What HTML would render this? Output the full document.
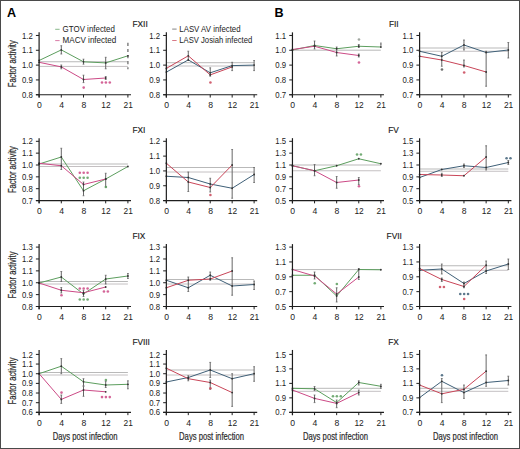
<!DOCTYPE html>
<html><head><meta charset="utf-8"><style>
html,body{margin:0;padding:0;background:#fff;width:520px;height:449px;overflow:hidden}
svg text{font-family:"Liberation Sans", sans-serif}
</style></head><body>
<svg width="520" height="449" viewBox="0 0 520 449" style="position:absolute;left:0;top:0">
<rect x="0" y="0" width="520" height="449" fill="#fff"/>
<line x1="39.6" y1="61.75" x2="127.9" y2="61.75" stroke="#b9b9b9" stroke-width="1"/>
<line x1="39.6" y1="66.4" x2="127.9" y2="66.4" stroke="#c4c0c2" stroke-width="1"/>
<polyline fill="none" stroke="#5c9e5e" stroke-width="1" points="39.1,60.5 61.3,49.9 83.5,61.8 105.7,62.9 127.9,55.8"/>
<polyline fill="none" stroke="#cc4a86" stroke-width="1" points="39.1,62.3 61.3,66.9 83.5,79.5 105.7,78"/>
<line x1="61.3" y1="45.7" x2="61.3" y2="54" stroke="#666" stroke-width="1"/>
<line x1="60.4" y1="45.7" x2="62.2" y2="45.7" stroke="#666" stroke-width="0.8"/>
<line x1="60.4" y1="54" x2="62.2" y2="54" stroke="#666" stroke-width="0.8"/>
<line x1="83.5" y1="59.2" x2="83.5" y2="64.2" stroke="#666" stroke-width="1"/>
<line x1="82.6" y1="59.2" x2="84.4" y2="59.2" stroke="#666" stroke-width="0.8"/>
<line x1="82.6" y1="64.2" x2="84.4" y2="64.2" stroke="#666" stroke-width="0.8"/>
<line x1="105.7" y1="57.3" x2="105.7" y2="68.8" stroke="#666" stroke-width="1"/>
<line x1="104.8" y1="57.3" x2="106.6" y2="57.3" stroke="#666" stroke-width="0.8"/>
<line x1="104.8" y1="68.8" x2="106.6" y2="68.8" stroke="#666" stroke-width="0.8"/>
<line x1="61.3" y1="65" x2="61.3" y2="68.8" stroke="#666" stroke-width="1"/>
<line x1="60.4" y1="65" x2="62.2" y2="65" stroke="#666" stroke-width="0.8"/>
<line x1="60.4" y1="68.8" x2="62.2" y2="68.8" stroke="#666" stroke-width="0.8"/>
<line x1="83.5" y1="75.2" x2="83.5" y2="82.6" stroke="#666" stroke-width="1"/>
<line x1="82.6" y1="75.2" x2="84.4" y2="75.2" stroke="#666" stroke-width="0.8"/>
<line x1="82.6" y1="82.6" x2="84.4" y2="82.6" stroke="#666" stroke-width="0.8"/>
<line x1="105.7" y1="76.5" x2="105.7" y2="79.5" stroke="#666" stroke-width="1"/>
<line x1="104.8" y1="76.5" x2="106.6" y2="76.5" stroke="#666" stroke-width="0.8"/>
<line x1="104.8" y1="79.5" x2="106.6" y2="79.5" stroke="#666" stroke-width="0.8"/>
<line x1="127.9" y1="42.8" x2="127.9" y2="69.2" stroke="#7a7a7a" stroke-width="1.4" stroke-dasharray="3.2,2.9"/>
<circle cx="39.1" cy="60.5" r="0.9" fill="#333"/>
<circle cx="61.3" cy="49.9" r="0.9" fill="#333"/>
<circle cx="83.5" cy="61.8" r="0.9" fill="#333"/>
<circle cx="105.7" cy="62.9" r="0.9" fill="#333"/>
<circle cx="127.9" cy="55.8" r="0.9" fill="#333"/>
<circle cx="39.1" cy="62.3" r="0.9" fill="#333"/>
<circle cx="61.3" cy="66.9" r="0.9" fill="#333"/>
<circle cx="83.5" cy="79.5" r="0.9" fill="#333"/>
<circle cx="105.7" cy="78" r="0.9" fill="#333"/>
<circle cx="83.7" cy="87.6" r="1.3" fill="#cc4a86" opacity="0.85"/>
<circle cx="102" cy="82.5" r="1.3" fill="#cc4a86" opacity="0.85"/>
<circle cx="105.9" cy="82.5" r="1.3" fill="#cc4a86" opacity="0.85"/>
<circle cx="109.8" cy="82.5" r="1.3" fill="#cc4a86" opacity="0.85"/>
<line x1="39.1" y1="32.35" x2="39.1" y2="97.55" stroke="#1e1e1e" stroke-width="1.2"/>
<line x1="35.9" y1="94.75" x2="131" y2="94.75" stroke="#1e1e1e" stroke-width="1.2"/>
<line x1="35.9" y1="35.46" x2="39.1" y2="35.46" stroke="#1e1e1e" stroke-width="1"/>
<text x="32.8" y="38.56" fill="#222" font-size="9.4" text-anchor="end" textLength="10.8" lengthAdjust="spacingAndGlyphs">1.2</text>
<line x1="35.9" y1="50.28" x2="39.1" y2="50.28" stroke="#1e1e1e" stroke-width="1"/>
<text x="32.8" y="53.38" fill="#222" font-size="9.4" text-anchor="end" textLength="10.8" lengthAdjust="spacingAndGlyphs">1.1</text>
<line x1="35.9" y1="65.11" x2="39.1" y2="65.11" stroke="#1e1e1e" stroke-width="1"/>
<text x="32.8" y="68.2" fill="#222" font-size="9.4" text-anchor="end" textLength="10.8" lengthAdjust="spacingAndGlyphs">1.0</text>
<line x1="35.9" y1="79.93" x2="39.1" y2="79.93" stroke="#1e1e1e" stroke-width="1"/>
<text x="32.8" y="83.03" fill="#222" font-size="9.4" text-anchor="end" textLength="10.8" lengthAdjust="spacingAndGlyphs">0.9</text>
<line x1="35.9" y1="94.75" x2="39.1" y2="94.75" stroke="#1e1e1e" stroke-width="1"/>
<text x="32.8" y="97.85" fill="#222" font-size="9.4" text-anchor="end" textLength="10.8" lengthAdjust="spacingAndGlyphs">0.8</text>
<line x1="39.1" y1="94.75" x2="39.1" y2="97.55" stroke="#1e1e1e" stroke-width="1"/>
<text x="39.4" y="108.25" fill="#222" font-size="9.4" text-anchor="middle" textLength="4.8" lengthAdjust="spacingAndGlyphs">0</text>
<line x1="61.3" y1="94.75" x2="61.3" y2="97.55" stroke="#1e1e1e" stroke-width="1"/>
<text x="61.6" y="108.25" fill="#222" font-size="9.4" text-anchor="middle" textLength="4.8" lengthAdjust="spacingAndGlyphs">4</text>
<line x1="83.5" y1="94.75" x2="83.5" y2="97.55" stroke="#1e1e1e" stroke-width="1"/>
<text x="83.8" y="108.25" fill="#222" font-size="9.4" text-anchor="middle" textLength="4.8" lengthAdjust="spacingAndGlyphs">8</text>
<line x1="105.7" y1="94.75" x2="105.7" y2="97.55" stroke="#1e1e1e" stroke-width="1"/>
<text x="106" y="108.25" fill="#222" font-size="9.4" text-anchor="middle" textLength="9.3" lengthAdjust="spacingAndGlyphs">12</text>
<line x1="127.9" y1="94.75" x2="127.9" y2="97.55" stroke="#1e1e1e" stroke-width="1"/>
<text x="128.2" y="108.25" fill="#222" font-size="9.4" text-anchor="middle" textLength="9.3" lengthAdjust="spacingAndGlyphs">21</text>
<line x1="166.85" y1="62.7" x2="254.11" y2="62.7" stroke="#b9b9b9" stroke-width="1"/>
<line x1="166.85" y1="66" x2="254.11" y2="66" stroke="#c4c0c2" stroke-width="1"/>
<polyline fill="none" stroke="#3f6078" stroke-width="1" points="166.35,72.1 188.29,59.9 210.23,72.8 232.17,65.6 254.11,65.1"/>
<polyline fill="none" stroke="#c94558" stroke-width="1" points="166.35,68.4 188.29,55.8 210.23,74.9 232.17,66.9"/>
<line x1="188.29" y1="51.2" x2="188.29" y2="60.5" stroke="#666" stroke-width="1"/>
<line x1="187.39" y1="51.2" x2="189.19" y2="51.2" stroke="#666" stroke-width="0.8"/>
<line x1="187.39" y1="60.5" x2="189.19" y2="60.5" stroke="#666" stroke-width="0.8"/>
<line x1="210.23" y1="67.8" x2="210.23" y2="76.2" stroke="#666" stroke-width="1"/>
<line x1="209.33" y1="67.8" x2="211.13" y2="67.8" stroke="#666" stroke-width="0.8"/>
<line x1="209.33" y1="76.2" x2="211.13" y2="76.2" stroke="#666" stroke-width="0.8"/>
<line x1="232.17" y1="62.3" x2="232.17" y2="70.6" stroke="#666" stroke-width="1"/>
<line x1="231.27" y1="62.3" x2="233.07" y2="62.3" stroke="#666" stroke-width="0.8"/>
<line x1="231.27" y1="70.6" x2="233.07" y2="70.6" stroke="#666" stroke-width="0.8"/>
<line x1="254.11" y1="60.5" x2="254.11" y2="70.6" stroke="#666" stroke-width="1"/>
<line x1="253.21" y1="60.5" x2="255.01" y2="60.5" stroke="#666" stroke-width="0.8"/>
<line x1="253.21" y1="70.6" x2="255.01" y2="70.6" stroke="#666" stroke-width="0.8"/>
<circle cx="166.35" cy="72.1" r="0.9" fill="#333"/>
<circle cx="188.29" cy="59.9" r="0.9" fill="#333"/>
<circle cx="210.23" cy="72.8" r="0.9" fill="#333"/>
<circle cx="232.17" cy="65.6" r="0.9" fill="#333"/>
<circle cx="254.11" cy="65.1" r="0.9" fill="#333"/>
<circle cx="166.35" cy="68.4" r="0.9" fill="#333"/>
<circle cx="188.29" cy="55.8" r="0.9" fill="#333"/>
<circle cx="210.23" cy="74.9" r="0.9" fill="#333"/>
<circle cx="232.17" cy="66.9" r="0.9" fill="#333"/>
<circle cx="210.43" cy="82.5" r="1.3" fill="#c94558" opacity="0.85"/>
<line x1="166.35" y1="32.35" x2="166.35" y2="97.55" stroke="#1e1e1e" stroke-width="1.2"/>
<line x1="163.15" y1="94.75" x2="257.21" y2="94.75" stroke="#1e1e1e" stroke-width="1.2"/>
<line x1="163.15" y1="35.46" x2="166.35" y2="35.46" stroke="#1e1e1e" stroke-width="1"/>
<text x="160.05" y="38.56" fill="#222" font-size="9.4" text-anchor="end" textLength="10.8" lengthAdjust="spacingAndGlyphs">1.2</text>
<line x1="163.15" y1="50.28" x2="166.35" y2="50.28" stroke="#1e1e1e" stroke-width="1"/>
<text x="160.05" y="53.38" fill="#222" font-size="9.4" text-anchor="end" textLength="10.8" lengthAdjust="spacingAndGlyphs">1.1</text>
<line x1="163.15" y1="65.11" x2="166.35" y2="65.11" stroke="#1e1e1e" stroke-width="1"/>
<text x="160.05" y="68.2" fill="#222" font-size="9.4" text-anchor="end" textLength="10.8" lengthAdjust="spacingAndGlyphs">1.0</text>
<line x1="163.15" y1="79.93" x2="166.35" y2="79.93" stroke="#1e1e1e" stroke-width="1"/>
<text x="160.05" y="83.03" fill="#222" font-size="9.4" text-anchor="end" textLength="10.8" lengthAdjust="spacingAndGlyphs">0.9</text>
<line x1="163.15" y1="94.75" x2="166.35" y2="94.75" stroke="#1e1e1e" stroke-width="1"/>
<text x="160.05" y="97.85" fill="#222" font-size="9.4" text-anchor="end" textLength="10.8" lengthAdjust="spacingAndGlyphs">0.8</text>
<line x1="166.35" y1="94.75" x2="166.35" y2="97.55" stroke="#1e1e1e" stroke-width="1"/>
<text x="166.65" y="108.25" fill="#222" font-size="9.4" text-anchor="middle" textLength="4.8" lengthAdjust="spacingAndGlyphs">0</text>
<line x1="188.29" y1="94.75" x2="188.29" y2="97.55" stroke="#1e1e1e" stroke-width="1"/>
<text x="188.59" y="108.25" fill="#222" font-size="9.4" text-anchor="middle" textLength="4.8" lengthAdjust="spacingAndGlyphs">4</text>
<line x1="210.23" y1="94.75" x2="210.23" y2="97.55" stroke="#1e1e1e" stroke-width="1"/>
<text x="210.53" y="108.25" fill="#222" font-size="9.4" text-anchor="middle" textLength="4.8" lengthAdjust="spacingAndGlyphs">8</text>
<line x1="232.17" y1="94.75" x2="232.17" y2="97.55" stroke="#1e1e1e" stroke-width="1"/>
<text x="232.47" y="108.25" fill="#222" font-size="9.4" text-anchor="middle" textLength="9.3" lengthAdjust="spacingAndGlyphs">12</text>
<line x1="254.11" y1="94.75" x2="254.11" y2="97.55" stroke="#1e1e1e" stroke-width="1"/>
<text x="254.41" y="108.25" fill="#222" font-size="9.4" text-anchor="middle" textLength="9.3" lengthAdjust="spacingAndGlyphs">21</text>
<line x1="292.95" y1="50.2" x2="380.89" y2="50.2" stroke="#b9b9b9" stroke-width="1"/>
<polyline fill="none" stroke="#5c9e5e" stroke-width="1" points="292.45,50 314.56,45.5 336.67,48.75 358.78,46.25 380.89,47"/>
<polyline fill="none" stroke="#cc4a86" stroke-width="1" points="292.45,49.5 314.56,46.25 336.67,52.5 358.78,55.5"/>
<line x1="314.56" y1="41" x2="314.56" y2="49" stroke="#666" stroke-width="1"/>
<line x1="313.66" y1="41" x2="315.46" y2="41" stroke="#666" stroke-width="0.8"/>
<line x1="313.66" y1="49" x2="315.46" y2="49" stroke="#666" stroke-width="0.8"/>
<line x1="336.67" y1="47" x2="336.67" y2="56" stroke="#666" stroke-width="1"/>
<line x1="335.77" y1="47" x2="337.57" y2="47" stroke="#666" stroke-width="0.8"/>
<line x1="335.77" y1="56" x2="337.57" y2="56" stroke="#666" stroke-width="0.8"/>
<line x1="358.78" y1="54" x2="358.78" y2="57" stroke="#666" stroke-width="1"/>
<line x1="357.88" y1="54" x2="359.68" y2="54" stroke="#666" stroke-width="0.8"/>
<line x1="357.88" y1="57" x2="359.68" y2="57" stroke="#666" stroke-width="0.8"/>
<line x1="358.78" y1="44.5" x2="358.78" y2="47.5" stroke="#666" stroke-width="1"/>
<line x1="357.88" y1="44.5" x2="359.68" y2="44.5" stroke="#666" stroke-width="0.8"/>
<line x1="357.88" y1="47.5" x2="359.68" y2="47.5" stroke="#666" stroke-width="0.8"/>
<line x1="380.89" y1="42.5" x2="380.89" y2="47.5" stroke="#7a7a7a" stroke-width="1.4" stroke-dasharray="3.2,2.9"/>
<circle cx="292.45" cy="50" r="0.9" fill="#333"/>
<circle cx="314.56" cy="45.5" r="0.9" fill="#333"/>
<circle cx="336.67" cy="48.75" r="0.9" fill="#333"/>
<circle cx="358.78" cy="46.25" r="0.9" fill="#333"/>
<circle cx="380.89" cy="47" r="0.9" fill="#333"/>
<circle cx="292.45" cy="49.5" r="0.9" fill="#333"/>
<circle cx="314.56" cy="46.25" r="0.9" fill="#333"/>
<circle cx="336.67" cy="52.5" r="0.9" fill="#333"/>
<circle cx="358.78" cy="55.5" r="0.9" fill="#333"/>
<circle cx="358.98" cy="39.5" r="1.3" fill="#909890" opacity="0.85"/>
<circle cx="358.98" cy="62.5" r="1.3" fill="#cc4a86" opacity="0.85"/>
<line x1="292.45" y1="32.35" x2="292.45" y2="97.55" stroke="#1e1e1e" stroke-width="1.2"/>
<line x1="289.25" y1="94.75" x2="383.99" y2="94.75" stroke="#1e1e1e" stroke-width="1.2"/>
<line x1="289.25" y1="35.46" x2="292.45" y2="35.46" stroke="#1e1e1e" stroke-width="1"/>
<text x="286.15" y="38.56" fill="#222" font-size="9.4" text-anchor="end" textLength="10.8" lengthAdjust="spacingAndGlyphs">1.1</text>
<line x1="289.25" y1="50.28" x2="292.45" y2="50.28" stroke="#1e1e1e" stroke-width="1"/>
<text x="286.15" y="53.38" fill="#222" font-size="9.4" text-anchor="end" textLength="10.8" lengthAdjust="spacingAndGlyphs">1.0</text>
<line x1="289.25" y1="65.11" x2="292.45" y2="65.11" stroke="#1e1e1e" stroke-width="1"/>
<text x="286.15" y="68.2" fill="#222" font-size="9.4" text-anchor="end" textLength="10.8" lengthAdjust="spacingAndGlyphs">0.9</text>
<line x1="289.25" y1="79.93" x2="292.45" y2="79.93" stroke="#1e1e1e" stroke-width="1"/>
<text x="286.15" y="83.03" fill="#222" font-size="9.4" text-anchor="end" textLength="10.8" lengthAdjust="spacingAndGlyphs">0.8</text>
<line x1="289.25" y1="94.75" x2="292.45" y2="94.75" stroke="#1e1e1e" stroke-width="1"/>
<text x="286.15" y="97.85" fill="#222" font-size="9.4" text-anchor="end" textLength="10.8" lengthAdjust="spacingAndGlyphs">0.7</text>
<line x1="292.45" y1="94.75" x2="292.45" y2="97.55" stroke="#1e1e1e" stroke-width="1"/>
<text x="292.75" y="108.25" fill="#222" font-size="9.4" text-anchor="middle" textLength="4.8" lengthAdjust="spacingAndGlyphs">0</text>
<line x1="314.56" y1="94.75" x2="314.56" y2="97.55" stroke="#1e1e1e" stroke-width="1"/>
<text x="314.86" y="108.25" fill="#222" font-size="9.4" text-anchor="middle" textLength="4.8" lengthAdjust="spacingAndGlyphs">4</text>
<line x1="336.67" y1="94.75" x2="336.67" y2="97.55" stroke="#1e1e1e" stroke-width="1"/>
<text x="336.97" y="108.25" fill="#222" font-size="9.4" text-anchor="middle" textLength="4.8" lengthAdjust="spacingAndGlyphs">8</text>
<line x1="358.78" y1="94.75" x2="358.78" y2="97.55" stroke="#1e1e1e" stroke-width="1"/>
<text x="359.08" y="108.25" fill="#222" font-size="9.4" text-anchor="middle" textLength="9.3" lengthAdjust="spacingAndGlyphs">12</text>
<line x1="380.89" y1="94.75" x2="380.89" y2="97.55" stroke="#1e1e1e" stroke-width="1"/>
<text x="381.19" y="108.25" fill="#222" font-size="9.4" text-anchor="middle" textLength="9.3" lengthAdjust="spacingAndGlyphs">21</text>
<line x1="420.1" y1="48" x2="508.32" y2="48" stroke="#b9b9b9" stroke-width="1"/>
<line x1="420.1" y1="51.25" x2="508.32" y2="51.25" stroke="#c4c0c2" stroke-width="1"/>
<polyline fill="none" stroke="#3f6078" stroke-width="1" points="419.6,51.25 441.78,56.25 463.96,45 486.14,52.5 508.32,50"/>
<polyline fill="none" stroke="#c94558" stroke-width="1" points="419.6,56.25 441.78,60 463.96,65.5 486.14,72"/>
<line x1="441.78" y1="52.5" x2="441.78" y2="66.25" stroke="#666" stroke-width="1"/>
<line x1="440.88" y1="52.5" x2="442.68" y2="52.5" stroke="#666" stroke-width="0.8"/>
<line x1="440.88" y1="66.25" x2="442.68" y2="66.25" stroke="#666" stroke-width="0.8"/>
<line x1="463.96" y1="40" x2="463.96" y2="50" stroke="#666" stroke-width="1"/>
<line x1="463.06" y1="40" x2="464.86" y2="40" stroke="#666" stroke-width="0.8"/>
<line x1="463.06" y1="50" x2="464.86" y2="50" stroke="#666" stroke-width="0.8"/>
<line x1="463.96" y1="60" x2="463.96" y2="67" stroke="#666" stroke-width="1"/>
<line x1="463.06" y1="60" x2="464.86" y2="60" stroke="#666" stroke-width="0.8"/>
<line x1="463.06" y1="67" x2="464.86" y2="67" stroke="#666" stroke-width="0.8"/>
<line x1="486.14" y1="51.25" x2="486.14" y2="86.25" stroke="#666" stroke-width="1"/>
<line x1="485.24" y1="51.25" x2="487.04" y2="51.25" stroke="#666" stroke-width="0.8"/>
<line x1="485.24" y1="86.25" x2="487.04" y2="86.25" stroke="#666" stroke-width="0.8"/>
<line x1="508.32" y1="42.5" x2="508.32" y2="58" stroke="#666" stroke-width="1"/>
<line x1="507.42" y1="42.5" x2="509.22" y2="42.5" stroke="#666" stroke-width="0.8"/>
<line x1="507.42" y1="58" x2="509.22" y2="58" stroke="#666" stroke-width="0.8"/>
<circle cx="419.6" cy="51.25" r="0.9" fill="#333"/>
<circle cx="441.78" cy="56.25" r="0.9" fill="#333"/>
<circle cx="463.96" cy="45" r="0.9" fill="#333"/>
<circle cx="486.14" cy="52.5" r="0.9" fill="#333"/>
<circle cx="508.32" cy="50" r="0.9" fill="#333"/>
<circle cx="419.6" cy="56.25" r="0.9" fill="#333"/>
<circle cx="441.78" cy="60" r="0.9" fill="#333"/>
<circle cx="463.96" cy="65.5" r="0.9" fill="#333"/>
<circle cx="486.14" cy="72" r="0.9" fill="#333"/>
<circle cx="441.98" cy="69.5" r="1.3" fill="#555" opacity="0.85"/>
<circle cx="464.16" cy="72.5" r="1.3" fill="#c94558" opacity="0.85"/>
<line x1="419.6" y1="32.35" x2="419.6" y2="97.55" stroke="#1e1e1e" stroke-width="1.2"/>
<line x1="416.4" y1="94.75" x2="511.42" y2="94.75" stroke="#1e1e1e" stroke-width="1.2"/>
<line x1="416.4" y1="35.46" x2="419.6" y2="35.46" stroke="#1e1e1e" stroke-width="1"/>
<text x="413.3" y="38.56" fill="#222" font-size="9.4" text-anchor="end" textLength="10.8" lengthAdjust="spacingAndGlyphs">1.1</text>
<line x1="416.4" y1="50.28" x2="419.6" y2="50.28" stroke="#1e1e1e" stroke-width="1"/>
<text x="413.3" y="53.38" fill="#222" font-size="9.4" text-anchor="end" textLength="10.8" lengthAdjust="spacingAndGlyphs">1.0</text>
<line x1="416.4" y1="65.11" x2="419.6" y2="65.11" stroke="#1e1e1e" stroke-width="1"/>
<text x="413.3" y="68.2" fill="#222" font-size="9.4" text-anchor="end" textLength="10.8" lengthAdjust="spacingAndGlyphs">0.9</text>
<line x1="416.4" y1="79.93" x2="419.6" y2="79.93" stroke="#1e1e1e" stroke-width="1"/>
<text x="413.3" y="83.03" fill="#222" font-size="9.4" text-anchor="end" textLength="10.8" lengthAdjust="spacingAndGlyphs">0.8</text>
<line x1="416.4" y1="94.75" x2="419.6" y2="94.75" stroke="#1e1e1e" stroke-width="1"/>
<text x="413.3" y="97.85" fill="#222" font-size="9.4" text-anchor="end" textLength="10.8" lengthAdjust="spacingAndGlyphs">0.7</text>
<line x1="419.6" y1="94.75" x2="419.6" y2="97.55" stroke="#1e1e1e" stroke-width="1"/>
<text x="419.9" y="108.25" fill="#222" font-size="9.4" text-anchor="middle" textLength="4.8" lengthAdjust="spacingAndGlyphs">0</text>
<line x1="441.78" y1="94.75" x2="441.78" y2="97.55" stroke="#1e1e1e" stroke-width="1"/>
<text x="442.08" y="108.25" fill="#222" font-size="9.4" text-anchor="middle" textLength="4.8" lengthAdjust="spacingAndGlyphs">4</text>
<line x1="463.96" y1="94.75" x2="463.96" y2="97.55" stroke="#1e1e1e" stroke-width="1"/>
<text x="464.26" y="108.25" fill="#222" font-size="9.4" text-anchor="middle" textLength="4.8" lengthAdjust="spacingAndGlyphs">8</text>
<line x1="486.14" y1="94.75" x2="486.14" y2="97.55" stroke="#1e1e1e" stroke-width="1"/>
<text x="486.44" y="108.25" fill="#222" font-size="9.4" text-anchor="middle" textLength="9.3" lengthAdjust="spacingAndGlyphs">12</text>
<line x1="508.32" y1="94.75" x2="508.32" y2="97.55" stroke="#1e1e1e" stroke-width="1"/>
<text x="508.62" y="108.25" fill="#222" font-size="9.4" text-anchor="middle" textLength="9.3" lengthAdjust="spacingAndGlyphs">21</text>
<text transform="translate(15.5,63.7) rotate(-90)" fill="#2a2a2a" font-size="10" text-anchor="middle" textLength="47" lengthAdjust="spacingAndGlyphs" stroke="#2a2a2a" stroke-width="0.2">Factor activity</text>
<line x1="39.6" y1="164" x2="127.9" y2="164" stroke="#b9b9b9" stroke-width="1"/>
<line x1="39.6" y1="166.5" x2="127.9" y2="166.5" stroke="#c4c0c2" stroke-width="1"/>
<polyline fill="none" stroke="#5c9e5e" stroke-width="1" points="39.1,164 61.3,157 83.5,190.75 105.7,179 127.9,166.5"/>
<polyline fill="none" stroke="#cc4a86" stroke-width="1" points="39.1,163.25 61.3,165.75 83.5,184.5 105.7,179"/>
<line x1="61.3" y1="148.25" x2="61.3" y2="169.5" stroke="#666" stroke-width="1"/>
<line x1="60.4" y1="148.25" x2="62.2" y2="148.25" stroke="#666" stroke-width="0.8"/>
<line x1="60.4" y1="169.5" x2="62.2" y2="169.5" stroke="#666" stroke-width="0.8"/>
<line x1="83.5" y1="182" x2="83.5" y2="195.75" stroke="#666" stroke-width="1"/>
<line x1="82.6" y1="182" x2="84.4" y2="182" stroke="#666" stroke-width="0.8"/>
<line x1="82.6" y1="195.75" x2="84.4" y2="195.75" stroke="#666" stroke-width="0.8"/>
<line x1="105.7" y1="173.25" x2="105.7" y2="187" stroke="#666" stroke-width="1"/>
<line x1="104.8" y1="173.25" x2="106.6" y2="173.25" stroke="#666" stroke-width="0.8"/>
<line x1="104.8" y1="187" x2="106.6" y2="187" stroke="#666" stroke-width="0.8"/>
<circle cx="39.1" cy="164" r="0.9" fill="#333"/>
<circle cx="61.3" cy="157" r="0.9" fill="#333"/>
<circle cx="83.5" cy="190.75" r="0.9" fill="#333"/>
<circle cx="105.7" cy="179" r="0.9" fill="#333"/>
<circle cx="127.9" cy="166.5" r="0.9" fill="#333"/>
<circle cx="39.1" cy="163.25" r="0.9" fill="#333"/>
<circle cx="61.3" cy="165.75" r="0.9" fill="#333"/>
<circle cx="83.5" cy="184.5" r="0.9" fill="#333"/>
<circle cx="105.7" cy="179" r="0.9" fill="#333"/>
<circle cx="79.8" cy="172.75" r="1.3" fill="#cc4a86" opacity="0.85"/>
<circle cx="83.7" cy="172.75" r="1.3" fill="#cc4a86" opacity="0.85"/>
<circle cx="87.6" cy="172.75" r="1.3" fill="#cc4a86" opacity="0.85"/>
<circle cx="79.8" cy="177.75" r="1.3" fill="#5c9e5e" opacity="0.85"/>
<circle cx="83.7" cy="177.75" r="1.3" fill="#5c9e5e" opacity="0.85"/>
<circle cx="87.6" cy="177.75" r="1.3" fill="#5c9e5e" opacity="0.85"/>
<circle cx="105.9" cy="187" r="1.3" fill="#5c9e5e" opacity="0.85"/>
<line x1="39.1" y1="138.15" x2="39.1" y2="203.35" stroke="#1e1e1e" stroke-width="1.2"/>
<line x1="35.9" y1="200.55" x2="131" y2="200.55" stroke="#1e1e1e" stroke-width="1.2"/>
<line x1="35.9" y1="141.3" x2="39.1" y2="141.3" stroke="#1e1e1e" stroke-width="1"/>
<text x="32.8" y="144.4" fill="#222" font-size="9.4" text-anchor="end" textLength="10.8" lengthAdjust="spacingAndGlyphs">1.2</text>
<line x1="35.9" y1="153.15" x2="39.1" y2="153.15" stroke="#1e1e1e" stroke-width="1"/>
<text x="32.8" y="156.25" fill="#222" font-size="9.4" text-anchor="end" textLength="10.8" lengthAdjust="spacingAndGlyphs">1.1</text>
<line x1="35.9" y1="165" x2="39.1" y2="165" stroke="#1e1e1e" stroke-width="1"/>
<text x="32.8" y="168.1" fill="#222" font-size="9.4" text-anchor="end" textLength="10.8" lengthAdjust="spacingAndGlyphs">1.0</text>
<line x1="35.9" y1="176.85" x2="39.1" y2="176.85" stroke="#1e1e1e" stroke-width="1"/>
<text x="32.8" y="179.95" fill="#222" font-size="9.4" text-anchor="end" textLength="10.8" lengthAdjust="spacingAndGlyphs">0.9</text>
<line x1="35.9" y1="188.7" x2="39.1" y2="188.7" stroke="#1e1e1e" stroke-width="1"/>
<text x="32.8" y="191.8" fill="#222" font-size="9.4" text-anchor="end" textLength="10.8" lengthAdjust="spacingAndGlyphs">0.8</text>
<line x1="35.9" y1="200.55" x2="39.1" y2="200.55" stroke="#1e1e1e" stroke-width="1"/>
<text x="32.8" y="203.65" fill="#222" font-size="9.4" text-anchor="end" textLength="10.8" lengthAdjust="spacingAndGlyphs">0.7</text>
<line x1="39.1" y1="200.55" x2="39.1" y2="203.35" stroke="#1e1e1e" stroke-width="1"/>
<text x="39.4" y="214.05" fill="#222" font-size="9.4" text-anchor="middle" textLength="4.8" lengthAdjust="spacingAndGlyphs">0</text>
<line x1="61.3" y1="200.55" x2="61.3" y2="203.35" stroke="#1e1e1e" stroke-width="1"/>
<text x="61.6" y="214.05" fill="#222" font-size="9.4" text-anchor="middle" textLength="4.8" lengthAdjust="spacingAndGlyphs">4</text>
<line x1="83.5" y1="200.55" x2="83.5" y2="203.35" stroke="#1e1e1e" stroke-width="1"/>
<text x="83.8" y="214.05" fill="#222" font-size="9.4" text-anchor="middle" textLength="4.8" lengthAdjust="spacingAndGlyphs">8</text>
<line x1="105.7" y1="200.55" x2="105.7" y2="203.35" stroke="#1e1e1e" stroke-width="1"/>
<text x="106" y="214.05" fill="#222" font-size="9.4" text-anchor="middle" textLength="9.3" lengthAdjust="spacingAndGlyphs">12</text>
<line x1="127.9" y1="200.55" x2="127.9" y2="203.35" stroke="#1e1e1e" stroke-width="1"/>
<text x="128.2" y="214.05" fill="#222" font-size="9.4" text-anchor="middle" textLength="9.3" lengthAdjust="spacingAndGlyphs">21</text>
<line x1="166.85" y1="167.5" x2="254.11" y2="167.5" stroke="#b9b9b9" stroke-width="1"/>
<line x1="166.85" y1="172" x2="254.11" y2="172" stroke="#c4c0c2" stroke-width="1"/>
<polyline fill="none" stroke="#3f6078" stroke-width="1" points="166.35,176.25 188.29,177.5 210.23,184 232.17,188.25 254.11,174.5"/>
<polyline fill="none" stroke="#c94558" stroke-width="1" points="166.35,163.25 188.29,182 210.23,187.5 232.17,165"/>
<line x1="188.29" y1="172" x2="188.29" y2="191.5" stroke="#666" stroke-width="1"/>
<line x1="187.39" y1="172" x2="189.19" y2="172" stroke="#666" stroke-width="0.8"/>
<line x1="187.39" y1="191.5" x2="189.19" y2="191.5" stroke="#666" stroke-width="0.8"/>
<line x1="210.23" y1="178.25" x2="210.23" y2="192" stroke="#666" stroke-width="1"/>
<line x1="209.33" y1="178.25" x2="211.13" y2="178.25" stroke="#666" stroke-width="0.8"/>
<line x1="209.33" y1="192" x2="211.13" y2="192" stroke="#666" stroke-width="0.8"/>
<line x1="232.17" y1="149.5" x2="232.17" y2="198.25" stroke="#666" stroke-width="1"/>
<line x1="231.27" y1="149.5" x2="233.07" y2="149.5" stroke="#666" stroke-width="0.8"/>
<line x1="231.27" y1="198.25" x2="233.07" y2="198.25" stroke="#666" stroke-width="0.8"/>
<line x1="254.11" y1="167.5" x2="254.11" y2="182.5" stroke="#666" stroke-width="1"/>
<line x1="253.21" y1="167.5" x2="255.01" y2="167.5" stroke="#666" stroke-width="0.8"/>
<line x1="253.21" y1="182.5" x2="255.01" y2="182.5" stroke="#666" stroke-width="0.8"/>
<circle cx="166.35" cy="176.25" r="0.9" fill="#333"/>
<circle cx="188.29" cy="177.5" r="0.9" fill="#333"/>
<circle cx="210.23" cy="184" r="0.9" fill="#333"/>
<circle cx="232.17" cy="188.25" r="0.9" fill="#333"/>
<circle cx="254.11" cy="174.5" r="0.9" fill="#333"/>
<circle cx="166.35" cy="163.25" r="0.9" fill="#333"/>
<circle cx="188.29" cy="182" r="0.9" fill="#333"/>
<circle cx="210.23" cy="187.5" r="0.9" fill="#333"/>
<circle cx="232.17" cy="165" r="0.9" fill="#333"/>
<circle cx="210.43" cy="195" r="1.3" fill="#c94558" opacity="0.85"/>
<line x1="166.35" y1="138.15" x2="166.35" y2="203.35" stroke="#1e1e1e" stroke-width="1.2"/>
<line x1="163.15" y1="200.55" x2="257.21" y2="200.55" stroke="#1e1e1e" stroke-width="1.2"/>
<line x1="163.15" y1="141.3" x2="166.35" y2="141.3" stroke="#1e1e1e" stroke-width="1"/>
<text x="160.05" y="144.4" fill="#222" font-size="9.4" text-anchor="end" textLength="10.8" lengthAdjust="spacingAndGlyphs">1.2</text>
<line x1="163.15" y1="156.11" x2="166.35" y2="156.11" stroke="#1e1e1e" stroke-width="1"/>
<text x="160.05" y="159.21" fill="#222" font-size="9.4" text-anchor="end" textLength="10.8" lengthAdjust="spacingAndGlyphs">1.1</text>
<line x1="163.15" y1="170.93" x2="166.35" y2="170.93" stroke="#1e1e1e" stroke-width="1"/>
<text x="160.05" y="174.03" fill="#222" font-size="9.4" text-anchor="end" textLength="10.8" lengthAdjust="spacingAndGlyphs">1.0</text>
<line x1="163.15" y1="185.74" x2="166.35" y2="185.74" stroke="#1e1e1e" stroke-width="1"/>
<text x="160.05" y="188.84" fill="#222" font-size="9.4" text-anchor="end" textLength="10.8" lengthAdjust="spacingAndGlyphs">0.9</text>
<line x1="163.15" y1="200.55" x2="166.35" y2="200.55" stroke="#1e1e1e" stroke-width="1"/>
<text x="160.05" y="203.65" fill="#222" font-size="9.4" text-anchor="end" textLength="10.8" lengthAdjust="spacingAndGlyphs">0.8</text>
<line x1="166.35" y1="200.55" x2="166.35" y2="203.35" stroke="#1e1e1e" stroke-width="1"/>
<text x="166.65" y="214.05" fill="#222" font-size="9.4" text-anchor="middle" textLength="4.8" lengthAdjust="spacingAndGlyphs">0</text>
<line x1="188.29" y1="200.55" x2="188.29" y2="203.35" stroke="#1e1e1e" stroke-width="1"/>
<text x="188.59" y="214.05" fill="#222" font-size="9.4" text-anchor="middle" textLength="4.8" lengthAdjust="spacingAndGlyphs">4</text>
<line x1="210.23" y1="200.55" x2="210.23" y2="203.35" stroke="#1e1e1e" stroke-width="1"/>
<text x="210.53" y="214.05" fill="#222" font-size="9.4" text-anchor="middle" textLength="4.8" lengthAdjust="spacingAndGlyphs">8</text>
<line x1="232.17" y1="200.55" x2="232.17" y2="203.35" stroke="#1e1e1e" stroke-width="1"/>
<text x="232.47" y="214.05" fill="#222" font-size="9.4" text-anchor="middle" textLength="9.3" lengthAdjust="spacingAndGlyphs">12</text>
<line x1="254.11" y1="200.55" x2="254.11" y2="203.35" stroke="#1e1e1e" stroke-width="1"/>
<text x="254.41" y="214.05" fill="#222" font-size="9.4" text-anchor="middle" textLength="9.3" lengthAdjust="spacingAndGlyphs">21</text>
<line x1="292.95" y1="165" x2="380.89" y2="165" stroke="#b9b9b9" stroke-width="1"/>
<line x1="292.95" y1="170.75" x2="380.89" y2="170.75" stroke="#c4c0c2" stroke-width="1"/>
<polyline fill="none" stroke="#5c9e5e" stroke-width="1" points="292.45,165.75 314.56,170.75 336.67,165.75 358.78,158.75 380.89,163.75"/>
<polyline fill="none" stroke="#cc4a86" stroke-width="1" points="292.45,165.75 314.56,170.75 336.67,182.5 358.78,180"/>
<line x1="314.56" y1="164.5" x2="314.56" y2="175.75" stroke="#666" stroke-width="1"/>
<line x1="313.66" y1="164.5" x2="315.46" y2="164.5" stroke="#666" stroke-width="0.8"/>
<line x1="313.66" y1="175.75" x2="315.46" y2="175.75" stroke="#666" stroke-width="0.8"/>
<line x1="336.67" y1="176.5" x2="336.67" y2="188.25" stroke="#666" stroke-width="1"/>
<line x1="335.77" y1="176.5" x2="337.57" y2="176.5" stroke="#666" stroke-width="0.8"/>
<line x1="335.77" y1="188.25" x2="337.57" y2="188.25" stroke="#666" stroke-width="0.8"/>
<line x1="358.78" y1="177.5" x2="358.78" y2="184.5" stroke="#666" stroke-width="1"/>
<line x1="357.88" y1="177.5" x2="359.68" y2="177.5" stroke="#666" stroke-width="0.8"/>
<line x1="357.88" y1="184.5" x2="359.68" y2="184.5" stroke="#666" stroke-width="0.8"/>
<circle cx="292.45" cy="165.75" r="0.9" fill="#333"/>
<circle cx="314.56" cy="170.75" r="0.9" fill="#333"/>
<circle cx="336.67" cy="165.75" r="0.9" fill="#333"/>
<circle cx="358.78" cy="158.75" r="0.9" fill="#333"/>
<circle cx="380.89" cy="163.75" r="0.9" fill="#333"/>
<circle cx="292.45" cy="165.75" r="0.9" fill="#333"/>
<circle cx="314.56" cy="170.75" r="0.9" fill="#333"/>
<circle cx="336.67" cy="182.5" r="0.9" fill="#333"/>
<circle cx="358.78" cy="180" r="0.9" fill="#333"/>
<circle cx="357.03" cy="154.5" r="1.3" fill="#5c9e5e" opacity="0.85"/>
<circle cx="360.93" cy="154.5" r="1.3" fill="#5c9e5e" opacity="0.85"/>
<circle cx="358.98" cy="186.25" r="1.3" fill="#cc4a86" opacity="0.85"/>
<line x1="292.45" y1="138.15" x2="292.45" y2="203.35" stroke="#1e1e1e" stroke-width="1.2"/>
<line x1="289.25" y1="200.55" x2="383.99" y2="200.55" stroke="#1e1e1e" stroke-width="1.2"/>
<line x1="289.25" y1="141.3" x2="292.45" y2="141.3" stroke="#1e1e1e" stroke-width="1"/>
<text x="286.15" y="144.4" fill="#222" font-size="9.4" text-anchor="end" textLength="10.8" lengthAdjust="spacingAndGlyphs">1.5</text>
<line x1="289.25" y1="153.15" x2="292.45" y2="153.15" stroke="#1e1e1e" stroke-width="1"/>
<text x="286.15" y="156.25" fill="#222" font-size="9.4" text-anchor="end" textLength="10.8" lengthAdjust="spacingAndGlyphs">1.3</text>
<line x1="289.25" y1="165" x2="292.45" y2="165" stroke="#1e1e1e" stroke-width="1"/>
<text x="286.15" y="168.1" fill="#222" font-size="9.4" text-anchor="end" textLength="10.8" lengthAdjust="spacingAndGlyphs">1.1</text>
<line x1="289.25" y1="176.85" x2="292.45" y2="176.85" stroke="#1e1e1e" stroke-width="1"/>
<text x="286.15" y="179.95" fill="#222" font-size="9.4" text-anchor="end" textLength="10.8" lengthAdjust="spacingAndGlyphs">0.9</text>
<line x1="289.25" y1="188.7" x2="292.45" y2="188.7" stroke="#1e1e1e" stroke-width="1"/>
<text x="286.15" y="191.8" fill="#222" font-size="9.4" text-anchor="end" textLength="10.8" lengthAdjust="spacingAndGlyphs">0.7</text>
<line x1="289.25" y1="200.55" x2="292.45" y2="200.55" stroke="#1e1e1e" stroke-width="1"/>
<text x="286.15" y="203.65" fill="#222" font-size="9.4" text-anchor="end" textLength="10.8" lengthAdjust="spacingAndGlyphs">0.5</text>
<line x1="292.45" y1="200.55" x2="292.45" y2="203.35" stroke="#1e1e1e" stroke-width="1"/>
<text x="292.75" y="214.05" fill="#222" font-size="9.4" text-anchor="middle" textLength="4.8" lengthAdjust="spacingAndGlyphs">0</text>
<line x1="314.56" y1="200.55" x2="314.56" y2="203.35" stroke="#1e1e1e" stroke-width="1"/>
<text x="314.86" y="214.05" fill="#222" font-size="9.4" text-anchor="middle" textLength="4.8" lengthAdjust="spacingAndGlyphs">4</text>
<line x1="336.67" y1="200.55" x2="336.67" y2="203.35" stroke="#1e1e1e" stroke-width="1"/>
<text x="336.97" y="214.05" fill="#222" font-size="9.4" text-anchor="middle" textLength="4.8" lengthAdjust="spacingAndGlyphs">8</text>
<line x1="358.78" y1="200.55" x2="358.78" y2="203.35" stroke="#1e1e1e" stroke-width="1"/>
<text x="359.08" y="214.05" fill="#222" font-size="9.4" text-anchor="middle" textLength="9.3" lengthAdjust="spacingAndGlyphs">12</text>
<line x1="380.89" y1="200.55" x2="380.89" y2="203.35" stroke="#1e1e1e" stroke-width="1"/>
<text x="381.19" y="214.05" fill="#222" font-size="9.4" text-anchor="middle" textLength="9.3" lengthAdjust="spacingAndGlyphs">21</text>
<line x1="420.1" y1="169" x2="508.32" y2="169" stroke="#b9b9b9" stroke-width="1"/>
<line x1="420.1" y1="171.25" x2="508.32" y2="171.25" stroke="#c4c0c2" stroke-width="1"/>
<polyline fill="none" stroke="#3f6078" stroke-width="1" points="419.6,177.5 441.78,169.5 463.96,165.75 486.14,167.5 508.32,162.5"/>
<polyline fill="none" stroke="#c94558" stroke-width="1" points="419.6,174.5 441.78,175 463.96,175.75 486.14,157"/>
<line x1="441.78" y1="173.25" x2="441.78" y2="176.5" stroke="#666" stroke-width="1"/>
<line x1="440.88" y1="173.25" x2="442.68" y2="173.25" stroke="#666" stroke-width="0.8"/>
<line x1="440.88" y1="176.5" x2="442.68" y2="176.5" stroke="#666" stroke-width="0.8"/>
<line x1="463.96" y1="164" x2="463.96" y2="167.5" stroke="#666" stroke-width="1"/>
<line x1="463.06" y1="164" x2="464.86" y2="164" stroke="#666" stroke-width="0.8"/>
<line x1="463.06" y1="167.5" x2="464.86" y2="167.5" stroke="#666" stroke-width="0.8"/>
<line x1="486.14" y1="145.75" x2="486.14" y2="170" stroke="#666" stroke-width="1"/>
<line x1="485.24" y1="145.75" x2="487.04" y2="145.75" stroke="#666" stroke-width="0.8"/>
<line x1="485.24" y1="170" x2="487.04" y2="170" stroke="#666" stroke-width="0.8"/>
<line x1="508.32" y1="160.5" x2="508.32" y2="164.5" stroke="#666" stroke-width="1"/>
<line x1="507.42" y1="160.5" x2="509.22" y2="160.5" stroke="#666" stroke-width="0.8"/>
<line x1="507.42" y1="164.5" x2="509.22" y2="164.5" stroke="#666" stroke-width="0.8"/>
<circle cx="419.6" cy="177.5" r="0.9" fill="#333"/>
<circle cx="441.78" cy="169.5" r="0.9" fill="#333"/>
<circle cx="463.96" cy="165.75" r="0.9" fill="#333"/>
<circle cx="486.14" cy="167.5" r="0.9" fill="#333"/>
<circle cx="508.32" cy="162.5" r="0.9" fill="#333"/>
<circle cx="419.6" cy="174.5" r="0.9" fill="#333"/>
<circle cx="441.78" cy="175" r="0.9" fill="#333"/>
<circle cx="463.96" cy="175.75" r="0.9" fill="#333"/>
<circle cx="486.14" cy="157" r="0.9" fill="#333"/>
<circle cx="506.57" cy="158.25" r="1.3" fill="#3f6078" opacity="0.85"/>
<circle cx="510.47" cy="158.25" r="1.3" fill="#3f6078" opacity="0.85"/>
<line x1="419.6" y1="138.15" x2="419.6" y2="203.35" stroke="#1e1e1e" stroke-width="1.2"/>
<line x1="416.4" y1="200.55" x2="511.42" y2="200.55" stroke="#1e1e1e" stroke-width="1.2"/>
<line x1="416.4" y1="141.3" x2="419.6" y2="141.3" stroke="#1e1e1e" stroke-width="1"/>
<text x="413.3" y="144.4" fill="#222" font-size="9.4" text-anchor="end" textLength="10.8" lengthAdjust="spacingAndGlyphs">1.5</text>
<line x1="416.4" y1="153.15" x2="419.6" y2="153.15" stroke="#1e1e1e" stroke-width="1"/>
<text x="413.3" y="156.25" fill="#222" font-size="9.4" text-anchor="end" textLength="10.8" lengthAdjust="spacingAndGlyphs">1.3</text>
<line x1="416.4" y1="165" x2="419.6" y2="165" stroke="#1e1e1e" stroke-width="1"/>
<text x="413.3" y="168.1" fill="#222" font-size="9.4" text-anchor="end" textLength="10.8" lengthAdjust="spacingAndGlyphs">1.1</text>
<line x1="416.4" y1="176.85" x2="419.6" y2="176.85" stroke="#1e1e1e" stroke-width="1"/>
<text x="413.3" y="179.95" fill="#222" font-size="9.4" text-anchor="end" textLength="10.8" lengthAdjust="spacingAndGlyphs">0.9</text>
<line x1="416.4" y1="188.7" x2="419.6" y2="188.7" stroke="#1e1e1e" stroke-width="1"/>
<text x="413.3" y="191.8" fill="#222" font-size="9.4" text-anchor="end" textLength="10.8" lengthAdjust="spacingAndGlyphs">0.7</text>
<line x1="416.4" y1="200.55" x2="419.6" y2="200.55" stroke="#1e1e1e" stroke-width="1"/>
<text x="413.3" y="203.65" fill="#222" font-size="9.4" text-anchor="end" textLength="10.8" lengthAdjust="spacingAndGlyphs">0.5</text>
<line x1="419.6" y1="200.55" x2="419.6" y2="203.35" stroke="#1e1e1e" stroke-width="1"/>
<text x="419.9" y="214.05" fill="#222" font-size="9.4" text-anchor="middle" textLength="4.8" lengthAdjust="spacingAndGlyphs">0</text>
<line x1="441.78" y1="200.55" x2="441.78" y2="203.35" stroke="#1e1e1e" stroke-width="1"/>
<text x="442.08" y="214.05" fill="#222" font-size="9.4" text-anchor="middle" textLength="4.8" lengthAdjust="spacingAndGlyphs">4</text>
<line x1="463.96" y1="200.55" x2="463.96" y2="203.35" stroke="#1e1e1e" stroke-width="1"/>
<text x="464.26" y="214.05" fill="#222" font-size="9.4" text-anchor="middle" textLength="4.8" lengthAdjust="spacingAndGlyphs">8</text>
<line x1="486.14" y1="200.55" x2="486.14" y2="203.35" stroke="#1e1e1e" stroke-width="1"/>
<text x="486.44" y="214.05" fill="#222" font-size="9.4" text-anchor="middle" textLength="9.3" lengthAdjust="spacingAndGlyphs">12</text>
<line x1="508.32" y1="200.55" x2="508.32" y2="203.35" stroke="#1e1e1e" stroke-width="1"/>
<text x="508.62" y="214.05" fill="#222" font-size="9.4" text-anchor="middle" textLength="9.3" lengthAdjust="spacingAndGlyphs">21</text>
<text transform="translate(15.5,169.6) rotate(-90)" fill="#2a2a2a" font-size="10" text-anchor="middle" textLength="47" lengthAdjust="spacingAndGlyphs" stroke="#2a2a2a" stroke-width="0.2">Factor activity</text>
<line x1="39.6" y1="281.5" x2="127.9" y2="281.5" stroke="#b9b9b9" stroke-width="1"/>
<line x1="39.6" y1="284" x2="127.9" y2="284" stroke="#c4c0c2" stroke-width="1"/>
<polyline fill="none" stroke="#5c9e5e" stroke-width="1" points="39.1,283 61.3,277 83.5,294 105.7,279 127.9,276"/>
<polyline fill="none" stroke="#cc4a86" stroke-width="1" points="39.1,283 61.3,290.25 83.5,292.75 105.7,287"/>
<line x1="61.3" y1="271.5" x2="61.3" y2="281.5" stroke="#666" stroke-width="1"/>
<line x1="60.4" y1="271.5" x2="62.2" y2="271.5" stroke="#666" stroke-width="0.8"/>
<line x1="60.4" y1="281.5" x2="62.2" y2="281.5" stroke="#666" stroke-width="0.8"/>
<line x1="61.3" y1="287.5" x2="61.3" y2="293" stroke="#666" stroke-width="1"/>
<line x1="60.4" y1="287.5" x2="62.2" y2="287.5" stroke="#666" stroke-width="0.8"/>
<line x1="60.4" y1="293" x2="62.2" y2="293" stroke="#666" stroke-width="0.8"/>
<line x1="83.5" y1="290.25" x2="83.5" y2="296.5" stroke="#666" stroke-width="1"/>
<line x1="82.6" y1="290.25" x2="84.4" y2="290.25" stroke="#666" stroke-width="0.8"/>
<line x1="82.6" y1="296.5" x2="84.4" y2="296.5" stroke="#666" stroke-width="0.8"/>
<line x1="105.7" y1="275.25" x2="105.7" y2="284" stroke="#666" stroke-width="1"/>
<line x1="104.8" y1="275.25" x2="106.6" y2="275.25" stroke="#666" stroke-width="0.8"/>
<line x1="104.8" y1="284" x2="106.6" y2="284" stroke="#666" stroke-width="0.8"/>
<line x1="127.9" y1="273.5" x2="127.9" y2="278.5" stroke="#666" stroke-width="1"/>
<line x1="127" y1="273.5" x2="128.8" y2="273.5" stroke="#666" stroke-width="0.8"/>
<line x1="127" y1="278.5" x2="128.8" y2="278.5" stroke="#666" stroke-width="0.8"/>
<circle cx="39.1" cy="283" r="0.9" fill="#333"/>
<circle cx="61.3" cy="277" r="0.9" fill="#333"/>
<circle cx="83.5" cy="294" r="0.9" fill="#333"/>
<circle cx="105.7" cy="279" r="0.9" fill="#333"/>
<circle cx="127.9" cy="276" r="0.9" fill="#333"/>
<circle cx="39.1" cy="283" r="0.9" fill="#333"/>
<circle cx="61.3" cy="290.25" r="0.9" fill="#333"/>
<circle cx="83.5" cy="292.75" r="0.9" fill="#333"/>
<circle cx="105.7" cy="287" r="0.9" fill="#333"/>
<circle cx="61.5" cy="295.25" r="1.3" fill="#cc4a86" opacity="0.85"/>
<circle cx="79.8" cy="288.5" r="1.3" fill="#cc4a86" opacity="0.85"/>
<circle cx="83.7" cy="288.5" r="1.3" fill="#cc4a86" opacity="0.85"/>
<circle cx="87.6" cy="288.5" r="1.3" fill="#cc4a86" opacity="0.85"/>
<circle cx="79.8" cy="299.5" r="1.3" fill="#5c9e5e" opacity="0.85"/>
<circle cx="83.7" cy="299.5" r="1.3" fill="#5c9e5e" opacity="0.85"/>
<circle cx="87.6" cy="299.5" r="1.3" fill="#5c9e5e" opacity="0.85"/>
<circle cx="103.95" cy="291.5" r="1.3" fill="#cc4a86" opacity="0.85"/>
<circle cx="107.85" cy="291.5" r="1.3" fill="#cc4a86" opacity="0.85"/>
<line x1="39.1" y1="244.1" x2="39.1" y2="309.3" stroke="#1e1e1e" stroke-width="1.2"/>
<line x1="35.9" y1="306.5" x2="131" y2="306.5" stroke="#1e1e1e" stroke-width="1.2"/>
<line x1="35.9" y1="247.1" x2="39.1" y2="247.1" stroke="#1e1e1e" stroke-width="1"/>
<text x="32.8" y="250.2" fill="#222" font-size="9.4" text-anchor="end" textLength="10.8" lengthAdjust="spacingAndGlyphs">1.3</text>
<line x1="35.9" y1="258.98" x2="39.1" y2="258.98" stroke="#1e1e1e" stroke-width="1"/>
<text x="32.8" y="262.08" fill="#222" font-size="9.4" text-anchor="end" textLength="10.8" lengthAdjust="spacingAndGlyphs">1.2</text>
<line x1="35.9" y1="270.86" x2="39.1" y2="270.86" stroke="#1e1e1e" stroke-width="1"/>
<text x="32.8" y="273.96" fill="#222" font-size="9.4" text-anchor="end" textLength="10.8" lengthAdjust="spacingAndGlyphs">1.1</text>
<line x1="35.9" y1="282.74" x2="39.1" y2="282.74" stroke="#1e1e1e" stroke-width="1"/>
<text x="32.8" y="285.84" fill="#222" font-size="9.4" text-anchor="end" textLength="10.8" lengthAdjust="spacingAndGlyphs">1.0</text>
<line x1="35.9" y1="294.62" x2="39.1" y2="294.62" stroke="#1e1e1e" stroke-width="1"/>
<text x="32.8" y="297.72" fill="#222" font-size="9.4" text-anchor="end" textLength="10.8" lengthAdjust="spacingAndGlyphs">0.9</text>
<line x1="35.9" y1="306.5" x2="39.1" y2="306.5" stroke="#1e1e1e" stroke-width="1"/>
<text x="32.8" y="309.6" fill="#222" font-size="9.4" text-anchor="end" textLength="10.8" lengthAdjust="spacingAndGlyphs">0.8</text>
<line x1="39.1" y1="306.5" x2="39.1" y2="309.3" stroke="#1e1e1e" stroke-width="1"/>
<text x="39.4" y="320" fill="#222" font-size="9.4" text-anchor="middle" textLength="4.8" lengthAdjust="spacingAndGlyphs">0</text>
<line x1="61.3" y1="306.5" x2="61.3" y2="309.3" stroke="#1e1e1e" stroke-width="1"/>
<text x="61.6" y="320" fill="#222" font-size="9.4" text-anchor="middle" textLength="4.8" lengthAdjust="spacingAndGlyphs">4</text>
<line x1="83.5" y1="306.5" x2="83.5" y2="309.3" stroke="#1e1e1e" stroke-width="1"/>
<text x="83.8" y="320" fill="#222" font-size="9.4" text-anchor="middle" textLength="4.8" lengthAdjust="spacingAndGlyphs">8</text>
<line x1="105.7" y1="306.5" x2="105.7" y2="309.3" stroke="#1e1e1e" stroke-width="1"/>
<text x="106" y="320" fill="#222" font-size="9.4" text-anchor="middle" textLength="9.3" lengthAdjust="spacingAndGlyphs">12</text>
<line x1="127.9" y1="306.5" x2="127.9" y2="309.3" stroke="#1e1e1e" stroke-width="1"/>
<text x="128.2" y="320" fill="#222" font-size="9.4" text-anchor="middle" textLength="9.3" lengthAdjust="spacingAndGlyphs">21</text>
<line x1="166.85" y1="279.5" x2="254.11" y2="279.5" stroke="#b9b9b9" stroke-width="1"/>
<line x1="166.85" y1="284" x2="254.11" y2="284" stroke="#c4c0c2" stroke-width="1"/>
<polyline fill="none" stroke="#3f6078" stroke-width="1" points="166.35,280.25 188.29,287.75 210.23,275.25 232.17,286 254.11,284.5"/>
<polyline fill="none" stroke="#c94558" stroke-width="1" points="166.35,287.75 188.29,280.25 210.23,279 232.17,271"/>
<line x1="188.29" y1="277" x2="188.29" y2="291.5" stroke="#666" stroke-width="1"/>
<line x1="187.39" y1="277" x2="189.19" y2="277" stroke="#666" stroke-width="0.8"/>
<line x1="187.39" y1="291.5" x2="189.19" y2="291.5" stroke="#666" stroke-width="0.8"/>
<line x1="210.23" y1="272" x2="210.23" y2="280.25" stroke="#666" stroke-width="1"/>
<line x1="209.33" y1="272" x2="211.13" y2="272" stroke="#666" stroke-width="0.8"/>
<line x1="209.33" y1="280.25" x2="211.13" y2="280.25" stroke="#666" stroke-width="0.8"/>
<line x1="232.17" y1="257.75" x2="232.17" y2="295.25" stroke="#666" stroke-width="1"/>
<line x1="231.27" y1="257.75" x2="233.07" y2="257.75" stroke="#666" stroke-width="0.8"/>
<line x1="231.27" y1="295.25" x2="233.07" y2="295.25" stroke="#666" stroke-width="0.8"/>
<line x1="254.11" y1="281" x2="254.11" y2="289.5" stroke="#666" stroke-width="1"/>
<line x1="253.21" y1="281" x2="255.01" y2="281" stroke="#666" stroke-width="0.8"/>
<line x1="253.21" y1="289.5" x2="255.01" y2="289.5" stroke="#666" stroke-width="0.8"/>
<circle cx="166.35" cy="280.25" r="0.9" fill="#333"/>
<circle cx="188.29" cy="287.75" r="0.9" fill="#333"/>
<circle cx="210.23" cy="275.25" r="0.9" fill="#333"/>
<circle cx="232.17" cy="286" r="0.9" fill="#333"/>
<circle cx="254.11" cy="284.5" r="0.9" fill="#333"/>
<circle cx="166.35" cy="287.75" r="0.9" fill="#333"/>
<circle cx="188.29" cy="280.25" r="0.9" fill="#333"/>
<circle cx="210.23" cy="279" r="0.9" fill="#333"/>
<circle cx="232.17" cy="271" r="0.9" fill="#333"/>
<line x1="166.35" y1="244.1" x2="166.35" y2="309.3" stroke="#1e1e1e" stroke-width="1.2"/>
<line x1="163.15" y1="306.5" x2="257.21" y2="306.5" stroke="#1e1e1e" stroke-width="1.2"/>
<line x1="163.15" y1="247.1" x2="166.35" y2="247.1" stroke="#1e1e1e" stroke-width="1"/>
<text x="160.05" y="250.2" fill="#222" font-size="9.4" text-anchor="end" textLength="10.8" lengthAdjust="spacingAndGlyphs">1.3</text>
<line x1="163.15" y1="258.98" x2="166.35" y2="258.98" stroke="#1e1e1e" stroke-width="1"/>
<text x="160.05" y="262.08" fill="#222" font-size="9.4" text-anchor="end" textLength="10.8" lengthAdjust="spacingAndGlyphs">1.2</text>
<line x1="163.15" y1="270.86" x2="166.35" y2="270.86" stroke="#1e1e1e" stroke-width="1"/>
<text x="160.05" y="273.96" fill="#222" font-size="9.4" text-anchor="end" textLength="10.8" lengthAdjust="spacingAndGlyphs">1.1</text>
<line x1="163.15" y1="282.74" x2="166.35" y2="282.74" stroke="#1e1e1e" stroke-width="1"/>
<text x="160.05" y="285.84" fill="#222" font-size="9.4" text-anchor="end" textLength="10.8" lengthAdjust="spacingAndGlyphs">1.0</text>
<line x1="163.15" y1="294.62" x2="166.35" y2="294.62" stroke="#1e1e1e" stroke-width="1"/>
<text x="160.05" y="297.72" fill="#222" font-size="9.4" text-anchor="end" textLength="10.8" lengthAdjust="spacingAndGlyphs">0.9</text>
<line x1="163.15" y1="306.5" x2="166.35" y2="306.5" stroke="#1e1e1e" stroke-width="1"/>
<text x="160.05" y="309.6" fill="#222" font-size="9.4" text-anchor="end" textLength="10.8" lengthAdjust="spacingAndGlyphs">0.8</text>
<line x1="166.35" y1="306.5" x2="166.35" y2="309.3" stroke="#1e1e1e" stroke-width="1"/>
<text x="166.65" y="320" fill="#222" font-size="9.4" text-anchor="middle" textLength="4.8" lengthAdjust="spacingAndGlyphs">0</text>
<line x1="188.29" y1="306.5" x2="188.29" y2="309.3" stroke="#1e1e1e" stroke-width="1"/>
<text x="188.59" y="320" fill="#222" font-size="9.4" text-anchor="middle" textLength="4.8" lengthAdjust="spacingAndGlyphs">4</text>
<line x1="210.23" y1="306.5" x2="210.23" y2="309.3" stroke="#1e1e1e" stroke-width="1"/>
<text x="210.53" y="320" fill="#222" font-size="9.4" text-anchor="middle" textLength="4.8" lengthAdjust="spacingAndGlyphs">8</text>
<line x1="232.17" y1="306.5" x2="232.17" y2="309.3" stroke="#1e1e1e" stroke-width="1"/>
<text x="232.47" y="320" fill="#222" font-size="9.4" text-anchor="middle" textLength="9.3" lengthAdjust="spacingAndGlyphs">12</text>
<line x1="254.11" y1="306.5" x2="254.11" y2="309.3" stroke="#1e1e1e" stroke-width="1"/>
<text x="254.41" y="320" fill="#222" font-size="9.4" text-anchor="middle" textLength="9.3" lengthAdjust="spacingAndGlyphs">21</text>
<line x1="292.95" y1="269.6" x2="380.89" y2="269.6" stroke="#b9b9b9" stroke-width="1"/>
<polyline fill="none" stroke="#5c9e5e" stroke-width="1" points="292.45,275.25 314.56,275.25 336.67,296 358.78,269.5 380.89,269.75"/>
<polyline fill="none" stroke="#cc4a86" stroke-width="1" points="292.45,269.5 314.56,276 336.67,294 358.78,277"/>
<line x1="314.56" y1="272" x2="314.56" y2="279" stroke="#666" stroke-width="1"/>
<line x1="313.66" y1="272" x2="315.46" y2="272" stroke="#666" stroke-width="0.8"/>
<line x1="313.66" y1="279" x2="315.46" y2="279" stroke="#666" stroke-width="0.8"/>
<line x1="336.67" y1="287.75" x2="336.67" y2="302" stroke="#666" stroke-width="1"/>
<line x1="335.77" y1="287.75" x2="337.57" y2="287.75" stroke="#666" stroke-width="0.8"/>
<line x1="335.77" y1="302" x2="337.57" y2="302" stroke="#666" stroke-width="0.8"/>
<line x1="358.78" y1="268.5" x2="358.78" y2="279.5" stroke="#666" stroke-width="1"/>
<line x1="357.88" y1="268.5" x2="359.68" y2="268.5" stroke="#666" stroke-width="0.8"/>
<line x1="357.88" y1="279.5" x2="359.68" y2="279.5" stroke="#666" stroke-width="0.8"/>
<circle cx="292.45" cy="275.25" r="0.9" fill="#333"/>
<circle cx="314.56" cy="275.25" r="0.9" fill="#333"/>
<circle cx="336.67" cy="296" r="0.9" fill="#333"/>
<circle cx="358.78" cy="269.5" r="0.9" fill="#333"/>
<circle cx="380.89" cy="269.75" r="0.9" fill="#333"/>
<circle cx="292.45" cy="269.5" r="0.9" fill="#333"/>
<circle cx="314.56" cy="276" r="0.9" fill="#333"/>
<circle cx="336.67" cy="294" r="0.9" fill="#333"/>
<circle cx="358.78" cy="277" r="0.9" fill="#333"/>
<circle cx="314.76" cy="283.25" r="1.3" fill="#5c9e5e" opacity="0.85"/>
<circle cx="336.87" cy="284" r="1.3" fill="#5c9e5e" opacity="0.85"/>
<line x1="292.45" y1="244.1" x2="292.45" y2="309.3" stroke="#1e1e1e" stroke-width="1.2"/>
<line x1="289.25" y1="306.5" x2="383.99" y2="306.5" stroke="#1e1e1e" stroke-width="1.2"/>
<line x1="289.25" y1="247.1" x2="292.45" y2="247.1" stroke="#1e1e1e" stroke-width="1"/>
<text x="286.15" y="250.2" fill="#222" font-size="9.4" text-anchor="end" textLength="10.8" lengthAdjust="spacingAndGlyphs">1.3</text>
<line x1="289.25" y1="261.95" x2="292.45" y2="261.95" stroke="#1e1e1e" stroke-width="1"/>
<text x="286.15" y="265.05" fill="#222" font-size="9.4" text-anchor="end" textLength="10.8" lengthAdjust="spacingAndGlyphs">1.1</text>
<line x1="289.25" y1="276.8" x2="292.45" y2="276.8" stroke="#1e1e1e" stroke-width="1"/>
<text x="286.15" y="279.9" fill="#222" font-size="9.4" text-anchor="end" textLength="10.8" lengthAdjust="spacingAndGlyphs">0.9</text>
<line x1="289.25" y1="291.65" x2="292.45" y2="291.65" stroke="#1e1e1e" stroke-width="1"/>
<text x="286.15" y="294.75" fill="#222" font-size="9.4" text-anchor="end" textLength="10.8" lengthAdjust="spacingAndGlyphs">0.7</text>
<line x1="289.25" y1="306.5" x2="292.45" y2="306.5" stroke="#1e1e1e" stroke-width="1"/>
<text x="286.15" y="309.6" fill="#222" font-size="9.4" text-anchor="end" textLength="10.8" lengthAdjust="spacingAndGlyphs">0.5</text>
<line x1="292.45" y1="306.5" x2="292.45" y2="309.3" stroke="#1e1e1e" stroke-width="1"/>
<text x="292.75" y="320" fill="#222" font-size="9.4" text-anchor="middle" textLength="4.8" lengthAdjust="spacingAndGlyphs">0</text>
<line x1="314.56" y1="306.5" x2="314.56" y2="309.3" stroke="#1e1e1e" stroke-width="1"/>
<text x="314.86" y="320" fill="#222" font-size="9.4" text-anchor="middle" textLength="4.8" lengthAdjust="spacingAndGlyphs">4</text>
<line x1="336.67" y1="306.5" x2="336.67" y2="309.3" stroke="#1e1e1e" stroke-width="1"/>
<text x="336.97" y="320" fill="#222" font-size="9.4" text-anchor="middle" textLength="4.8" lengthAdjust="spacingAndGlyphs">8</text>
<line x1="358.78" y1="306.5" x2="358.78" y2="309.3" stroke="#1e1e1e" stroke-width="1"/>
<text x="359.08" y="320" fill="#222" font-size="9.4" text-anchor="middle" textLength="9.3" lengthAdjust="spacingAndGlyphs">12</text>
<line x1="380.89" y1="306.5" x2="380.89" y2="309.3" stroke="#1e1e1e" stroke-width="1"/>
<text x="381.19" y="320" fill="#222" font-size="9.4" text-anchor="middle" textLength="9.3" lengthAdjust="spacingAndGlyphs">21</text>
<line x1="420.1" y1="265.75" x2="508.32" y2="265.75" stroke="#b9b9b9" stroke-width="1"/>
<line x1="420.1" y1="270.25" x2="508.32" y2="270.25" stroke="#c4c0c2" stroke-width="1"/>
<polyline fill="none" stroke="#3f6078" stroke-width="1" points="419.6,270.25 441.78,269 463.96,283.5 486.14,271 508.32,264"/>
<polyline fill="none" stroke="#c94558" stroke-width="1" points="419.6,268.5 441.78,279.5 463.96,286.5 486.14,265.25"/>
<line x1="441.78" y1="264" x2="441.78" y2="274" stroke="#666" stroke-width="1"/>
<line x1="440.88" y1="264" x2="442.68" y2="264" stroke="#666" stroke-width="0.8"/>
<line x1="440.88" y1="274" x2="442.68" y2="274" stroke="#666" stroke-width="0.8"/>
<line x1="441.78" y1="278" x2="441.78" y2="281.5" stroke="#666" stroke-width="1"/>
<line x1="440.88" y1="278" x2="442.68" y2="278" stroke="#666" stroke-width="0.8"/>
<line x1="440.88" y1="281.5" x2="442.68" y2="281.5" stroke="#666" stroke-width="0.8"/>
<line x1="463.96" y1="282" x2="463.96" y2="287.75" stroke="#666" stroke-width="1"/>
<line x1="463.06" y1="282" x2="464.86" y2="282" stroke="#666" stroke-width="0.8"/>
<line x1="463.06" y1="287.75" x2="464.86" y2="287.75" stroke="#666" stroke-width="0.8"/>
<line x1="486.14" y1="261" x2="486.14" y2="273.5" stroke="#666" stroke-width="1"/>
<line x1="485.24" y1="261" x2="487.04" y2="261" stroke="#666" stroke-width="0.8"/>
<line x1="485.24" y1="273.5" x2="487.04" y2="273.5" stroke="#666" stroke-width="0.8"/>
<line x1="508.32" y1="259" x2="508.32" y2="269.5" stroke="#666" stroke-width="1"/>
<line x1="507.42" y1="259" x2="509.22" y2="259" stroke="#666" stroke-width="0.8"/>
<line x1="507.42" y1="269.5" x2="509.22" y2="269.5" stroke="#666" stroke-width="0.8"/>
<circle cx="419.6" cy="270.25" r="0.9" fill="#333"/>
<circle cx="441.78" cy="269" r="0.9" fill="#333"/>
<circle cx="463.96" cy="283.5" r="0.9" fill="#333"/>
<circle cx="486.14" cy="271" r="0.9" fill="#333"/>
<circle cx="508.32" cy="264" r="0.9" fill="#333"/>
<circle cx="419.6" cy="268.5" r="0.9" fill="#333"/>
<circle cx="441.78" cy="279.5" r="0.9" fill="#333"/>
<circle cx="463.96" cy="286.5" r="0.9" fill="#333"/>
<circle cx="486.14" cy="265.25" r="0.9" fill="#333"/>
<circle cx="440.03" cy="287" r="1.3" fill="#c94558" opacity="0.85"/>
<circle cx="443.93" cy="287" r="1.3" fill="#c94558" opacity="0.85"/>
<circle cx="460.26" cy="294" r="1.3" fill="#3f6078" opacity="0.85"/>
<circle cx="464.16" cy="294" r="1.3" fill="#3f6078" opacity="0.85"/>
<circle cx="468.06" cy="294" r="1.3" fill="#3f6078" opacity="0.85"/>
<circle cx="464.16" cy="299" r="1.3" fill="#c94558" opacity="0.85"/>
<line x1="419.6" y1="244.1" x2="419.6" y2="309.3" stroke="#1e1e1e" stroke-width="1.2"/>
<line x1="416.4" y1="306.5" x2="511.42" y2="306.5" stroke="#1e1e1e" stroke-width="1.2"/>
<line x1="416.4" y1="247.1" x2="419.6" y2="247.1" stroke="#1e1e1e" stroke-width="1"/>
<text x="413.3" y="250.2" fill="#222" font-size="9.4" text-anchor="end" textLength="10.8" lengthAdjust="spacingAndGlyphs">1.3</text>
<line x1="416.4" y1="261.95" x2="419.6" y2="261.95" stroke="#1e1e1e" stroke-width="1"/>
<text x="413.3" y="265.05" fill="#222" font-size="9.4" text-anchor="end" textLength="10.8" lengthAdjust="spacingAndGlyphs">1.1</text>
<line x1="416.4" y1="276.8" x2="419.6" y2="276.8" stroke="#1e1e1e" stroke-width="1"/>
<text x="413.3" y="279.9" fill="#222" font-size="9.4" text-anchor="end" textLength="10.8" lengthAdjust="spacingAndGlyphs">0.9</text>
<line x1="416.4" y1="291.65" x2="419.6" y2="291.65" stroke="#1e1e1e" stroke-width="1"/>
<text x="413.3" y="294.75" fill="#222" font-size="9.4" text-anchor="end" textLength="10.8" lengthAdjust="spacingAndGlyphs">0.7</text>
<line x1="416.4" y1="306.5" x2="419.6" y2="306.5" stroke="#1e1e1e" stroke-width="1"/>
<text x="413.3" y="309.6" fill="#222" font-size="9.4" text-anchor="end" textLength="10.8" lengthAdjust="spacingAndGlyphs">0.5</text>
<line x1="419.6" y1="306.5" x2="419.6" y2="309.3" stroke="#1e1e1e" stroke-width="1"/>
<text x="419.9" y="320" fill="#222" font-size="9.4" text-anchor="middle" textLength="4.8" lengthAdjust="spacingAndGlyphs">0</text>
<line x1="441.78" y1="306.5" x2="441.78" y2="309.3" stroke="#1e1e1e" stroke-width="1"/>
<text x="442.08" y="320" fill="#222" font-size="9.4" text-anchor="middle" textLength="4.8" lengthAdjust="spacingAndGlyphs">4</text>
<line x1="463.96" y1="306.5" x2="463.96" y2="309.3" stroke="#1e1e1e" stroke-width="1"/>
<text x="464.26" y="320" fill="#222" font-size="9.4" text-anchor="middle" textLength="4.8" lengthAdjust="spacingAndGlyphs">8</text>
<line x1="486.14" y1="306.5" x2="486.14" y2="309.3" stroke="#1e1e1e" stroke-width="1"/>
<text x="486.44" y="320" fill="#222" font-size="9.4" text-anchor="middle" textLength="9.3" lengthAdjust="spacingAndGlyphs">12</text>
<line x1="508.32" y1="306.5" x2="508.32" y2="309.3" stroke="#1e1e1e" stroke-width="1"/>
<text x="508.62" y="320" fill="#222" font-size="9.4" text-anchor="middle" textLength="9.3" lengthAdjust="spacingAndGlyphs">21</text>
<text transform="translate(15.5,275) rotate(-90)" fill="#2a2a2a" font-size="10" text-anchor="middle" textLength="47" lengthAdjust="spacingAndGlyphs" stroke="#2a2a2a" stroke-width="0.2">Factor activity</text>
<line x1="39.6" y1="372.5" x2="127.9" y2="372.5" stroke="#b9b9b9" stroke-width="1"/>
<line x1="39.6" y1="375" x2="127.9" y2="375" stroke="#c4c0c2" stroke-width="1"/>
<polyline fill="none" stroke="#5c9e5e" stroke-width="1" points="39.1,373.7 61.3,366.2 83.5,381.8 105.7,385 127.9,384.3"/>
<polyline fill="none" stroke="#cc4a86" stroke-width="1" points="39.1,373.7 61.3,399.4 83.5,390 105.7,391.8"/>
<line x1="61.3" y1="358.6" x2="61.3" y2="373.7" stroke="#666" stroke-width="1"/>
<line x1="60.4" y1="358.6" x2="62.2" y2="358.6" stroke="#666" stroke-width="0.8"/>
<line x1="60.4" y1="373.7" x2="62.2" y2="373.7" stroke="#666" stroke-width="0.8"/>
<line x1="61.3" y1="395" x2="61.3" y2="403.4" stroke="#666" stroke-width="1"/>
<line x1="60.4" y1="395" x2="62.2" y2="395" stroke="#666" stroke-width="0.8"/>
<line x1="60.4" y1="403.4" x2="62.2" y2="403.4" stroke="#666" stroke-width="0.8"/>
<line x1="83.5" y1="378.7" x2="83.5" y2="385.8" stroke="#666" stroke-width="1"/>
<line x1="82.6" y1="378.7" x2="84.4" y2="378.7" stroke="#666" stroke-width="0.8"/>
<line x1="82.6" y1="385.8" x2="84.4" y2="385.8" stroke="#666" stroke-width="0.8"/>
<line x1="83.5" y1="386.3" x2="83.5" y2="396.3" stroke="#666" stroke-width="1"/>
<line x1="82.6" y1="386.3" x2="84.4" y2="386.3" stroke="#666" stroke-width="0.8"/>
<line x1="82.6" y1="396.3" x2="84.4" y2="396.3" stroke="#666" stroke-width="0.8"/>
<line x1="105.7" y1="381.3" x2="105.7" y2="387.5" stroke="#666" stroke-width="1"/>
<line x1="104.8" y1="381.3" x2="106.6" y2="381.3" stroke="#666" stroke-width="0.8"/>
<line x1="104.8" y1="387.5" x2="106.6" y2="387.5" stroke="#666" stroke-width="0.8"/>
<line x1="127.9" y1="380.8" x2="127.9" y2="388.8" stroke="#666" stroke-width="1"/>
<line x1="127" y1="380.8" x2="128.8" y2="380.8" stroke="#666" stroke-width="0.8"/>
<line x1="127" y1="388.8" x2="128.8" y2="388.8" stroke="#666" stroke-width="0.8"/>
<circle cx="39.1" cy="373.7" r="0.9" fill="#333"/>
<circle cx="61.3" cy="366.2" r="0.9" fill="#333"/>
<circle cx="83.5" cy="381.8" r="0.9" fill="#333"/>
<circle cx="105.7" cy="385" r="0.9" fill="#333"/>
<circle cx="127.9" cy="384.3" r="0.9" fill="#333"/>
<circle cx="39.1" cy="373.7" r="0.9" fill="#333"/>
<circle cx="61.3" cy="399.4" r="0.9" fill="#333"/>
<circle cx="83.5" cy="390" r="0.9" fill="#333"/>
<circle cx="105.7" cy="391.8" r="0.9" fill="#333"/>
<circle cx="61.5" cy="392.6" r="1.3" fill="#cc4a86" opacity="0.85"/>
<circle cx="105.9" cy="380" r="1.3" fill="#5c9e5e" opacity="0.85"/>
<circle cx="102" cy="397.1" r="1.3" fill="#cc4a86" opacity="0.85"/>
<circle cx="105.9" cy="397.1" r="1.3" fill="#cc4a86" opacity="0.85"/>
<circle cx="109.8" cy="397.1" r="1.3" fill="#cc4a86" opacity="0.85"/>
<line x1="39.1" y1="349.95" x2="39.1" y2="415.15" stroke="#1e1e1e" stroke-width="1.2"/>
<line x1="35.9" y1="412.35" x2="131" y2="412.35" stroke="#1e1e1e" stroke-width="1.2"/>
<line x1="35.9" y1="354.4" x2="39.1" y2="354.4" stroke="#1e1e1e" stroke-width="1"/>
<text x="32.8" y="357.5" fill="#222" font-size="9.4" text-anchor="end" textLength="10.8" lengthAdjust="spacingAndGlyphs">1.2</text>
<line x1="35.9" y1="364.06" x2="39.1" y2="364.06" stroke="#1e1e1e" stroke-width="1"/>
<text x="32.8" y="367.16" fill="#222" font-size="9.4" text-anchor="end" textLength="10.8" lengthAdjust="spacingAndGlyphs">1.1</text>
<line x1="35.9" y1="373.72" x2="39.1" y2="373.72" stroke="#1e1e1e" stroke-width="1"/>
<text x="32.8" y="376.82" fill="#222" font-size="9.4" text-anchor="end" textLength="10.8" lengthAdjust="spacingAndGlyphs">1.0</text>
<line x1="35.9" y1="383.38" x2="39.1" y2="383.38" stroke="#1e1e1e" stroke-width="1"/>
<text x="32.8" y="386.48" fill="#222" font-size="9.4" text-anchor="end" textLength="10.8" lengthAdjust="spacingAndGlyphs">0.9</text>
<line x1="35.9" y1="393.03" x2="39.1" y2="393.03" stroke="#1e1e1e" stroke-width="1"/>
<text x="32.8" y="396.13" fill="#222" font-size="9.4" text-anchor="end" textLength="10.8" lengthAdjust="spacingAndGlyphs">0.8</text>
<line x1="35.9" y1="402.69" x2="39.1" y2="402.69" stroke="#1e1e1e" stroke-width="1"/>
<text x="32.8" y="405.79" fill="#222" font-size="9.4" text-anchor="end" textLength="10.8" lengthAdjust="spacingAndGlyphs">0.7</text>
<line x1="35.9" y1="412.35" x2="39.1" y2="412.35" stroke="#1e1e1e" stroke-width="1"/>
<text x="32.8" y="415.45" fill="#222" font-size="9.4" text-anchor="end" textLength="10.8" lengthAdjust="spacingAndGlyphs">0.6</text>
<line x1="39.1" y1="412.35" x2="39.1" y2="415.15" stroke="#1e1e1e" stroke-width="1"/>
<text x="39.4" y="425.85" fill="#222" font-size="9.4" text-anchor="middle" textLength="4.8" lengthAdjust="spacingAndGlyphs">0</text>
<line x1="61.3" y1="412.35" x2="61.3" y2="415.15" stroke="#1e1e1e" stroke-width="1"/>
<text x="61.6" y="425.85" fill="#222" font-size="9.4" text-anchor="middle" textLength="4.8" lengthAdjust="spacingAndGlyphs">4</text>
<line x1="83.5" y1="412.35" x2="83.5" y2="415.15" stroke="#1e1e1e" stroke-width="1"/>
<text x="83.8" y="425.85" fill="#222" font-size="9.4" text-anchor="middle" textLength="4.8" lengthAdjust="spacingAndGlyphs">8</text>
<line x1="105.7" y1="412.35" x2="105.7" y2="415.15" stroke="#1e1e1e" stroke-width="1"/>
<text x="106" y="425.85" fill="#222" font-size="9.4" text-anchor="middle" textLength="9.3" lengthAdjust="spacingAndGlyphs">12</text>
<line x1="127.9" y1="412.35" x2="127.9" y2="415.15" stroke="#1e1e1e" stroke-width="1"/>
<text x="128.2" y="425.85" fill="#222" font-size="9.4" text-anchor="middle" textLength="9.3" lengthAdjust="spacingAndGlyphs">21</text>
<line x1="166.85" y1="370" x2="254.11" y2="370" stroke="#b9b9b9" stroke-width="1"/>
<line x1="166.85" y1="375" x2="254.11" y2="375" stroke="#c4c0c2" stroke-width="1"/>
<polyline fill="none" stroke="#3f6078" stroke-width="1" points="166.35,382 188.29,377.5 210.23,370 232.17,378.7 254.11,373.7"/>
<polyline fill="none" stroke="#c94558" stroke-width="1" points="166.35,368.2 188.29,378.7 210.23,382.5 232.17,392.6"/>
<line x1="188.29" y1="375.7" x2="188.29" y2="380.8" stroke="#666" stroke-width="1"/>
<line x1="187.39" y1="375.7" x2="189.19" y2="375.7" stroke="#666" stroke-width="0.8"/>
<line x1="187.39" y1="380.8" x2="189.19" y2="380.8" stroke="#666" stroke-width="0.8"/>
<line x1="210.23" y1="362.4" x2="210.23" y2="377.5" stroke="#666" stroke-width="1"/>
<line x1="209.33" y1="362.4" x2="211.13" y2="362.4" stroke="#666" stroke-width="0.8"/>
<line x1="209.33" y1="377.5" x2="211.13" y2="377.5" stroke="#666" stroke-width="0.8"/>
<line x1="210.23" y1="380" x2="210.23" y2="389.3" stroke="#666" stroke-width="1"/>
<line x1="209.33" y1="380" x2="211.13" y2="380" stroke="#666" stroke-width="0.8"/>
<line x1="209.33" y1="389.3" x2="211.13" y2="389.3" stroke="#666" stroke-width="0.8"/>
<line x1="232.17" y1="373.7" x2="232.17" y2="406.4" stroke="#666" stroke-width="1"/>
<line x1="231.27" y1="373.7" x2="233.07" y2="373.7" stroke="#666" stroke-width="0.8"/>
<line x1="231.27" y1="406.4" x2="233.07" y2="406.4" stroke="#666" stroke-width="0.8"/>
<line x1="254.11" y1="366.7" x2="254.11" y2="381.3" stroke="#666" stroke-width="1"/>
<line x1="253.21" y1="366.7" x2="255.01" y2="366.7" stroke="#666" stroke-width="0.8"/>
<line x1="253.21" y1="381.3" x2="255.01" y2="381.3" stroke="#666" stroke-width="0.8"/>
<circle cx="166.35" cy="382" r="0.9" fill="#333"/>
<circle cx="188.29" cy="377.5" r="0.9" fill="#333"/>
<circle cx="210.23" cy="370" r="0.9" fill="#333"/>
<circle cx="232.17" cy="378.7" r="0.9" fill="#333"/>
<circle cx="254.11" cy="373.7" r="0.9" fill="#333"/>
<circle cx="166.35" cy="368.2" r="0.9" fill="#333"/>
<circle cx="188.29" cy="378.7" r="0.9" fill="#333"/>
<circle cx="210.23" cy="382.5" r="0.9" fill="#333"/>
<circle cx="232.17" cy="392.6" r="0.9" fill="#333"/>
<circle cx="210.43" cy="388.3" r="1.3" fill="#c94558" opacity="0.85"/>
<line x1="166.35" y1="349.95" x2="166.35" y2="415.15" stroke="#1e1e1e" stroke-width="1.2"/>
<line x1="163.15" y1="412.35" x2="257.21" y2="412.35" stroke="#1e1e1e" stroke-width="1.2"/>
<line x1="163.15" y1="354.4" x2="166.35" y2="354.4" stroke="#1e1e1e" stroke-width="1"/>
<text x="160.05" y="357.5" fill="#222" font-size="9.4" text-anchor="end" textLength="10.8" lengthAdjust="spacingAndGlyphs">1.2</text>
<line x1="163.15" y1="364.06" x2="166.35" y2="364.06" stroke="#1e1e1e" stroke-width="1"/>
<text x="160.05" y="367.16" fill="#222" font-size="9.4" text-anchor="end" textLength="10.8" lengthAdjust="spacingAndGlyphs">1.1</text>
<line x1="163.15" y1="373.72" x2="166.35" y2="373.72" stroke="#1e1e1e" stroke-width="1"/>
<text x="160.05" y="376.82" fill="#222" font-size="9.4" text-anchor="end" textLength="10.8" lengthAdjust="spacingAndGlyphs">1.0</text>
<line x1="163.15" y1="383.38" x2="166.35" y2="383.38" stroke="#1e1e1e" stroke-width="1"/>
<text x="160.05" y="386.48" fill="#222" font-size="9.4" text-anchor="end" textLength="10.8" lengthAdjust="spacingAndGlyphs">0.9</text>
<line x1="163.15" y1="393.03" x2="166.35" y2="393.03" stroke="#1e1e1e" stroke-width="1"/>
<text x="160.05" y="396.13" fill="#222" font-size="9.4" text-anchor="end" textLength="10.8" lengthAdjust="spacingAndGlyphs">0.8</text>
<line x1="163.15" y1="402.69" x2="166.35" y2="402.69" stroke="#1e1e1e" stroke-width="1"/>
<text x="160.05" y="405.79" fill="#222" font-size="9.4" text-anchor="end" textLength="10.8" lengthAdjust="spacingAndGlyphs">0.7</text>
<line x1="163.15" y1="412.35" x2="166.35" y2="412.35" stroke="#1e1e1e" stroke-width="1"/>
<text x="160.05" y="415.45" fill="#222" font-size="9.4" text-anchor="end" textLength="10.8" lengthAdjust="spacingAndGlyphs">0.6</text>
<line x1="166.35" y1="412.35" x2="166.35" y2="415.15" stroke="#1e1e1e" stroke-width="1"/>
<text x="166.65" y="425.85" fill="#222" font-size="9.4" text-anchor="middle" textLength="4.8" lengthAdjust="spacingAndGlyphs">0</text>
<line x1="188.29" y1="412.35" x2="188.29" y2="415.15" stroke="#1e1e1e" stroke-width="1"/>
<text x="188.59" y="425.85" fill="#222" font-size="9.4" text-anchor="middle" textLength="4.8" lengthAdjust="spacingAndGlyphs">4</text>
<line x1="210.23" y1="412.35" x2="210.23" y2="415.15" stroke="#1e1e1e" stroke-width="1"/>
<text x="210.53" y="425.85" fill="#222" font-size="9.4" text-anchor="middle" textLength="4.8" lengthAdjust="spacingAndGlyphs">8</text>
<line x1="232.17" y1="412.35" x2="232.17" y2="415.15" stroke="#1e1e1e" stroke-width="1"/>
<text x="232.47" y="425.85" fill="#222" font-size="9.4" text-anchor="middle" textLength="9.3" lengthAdjust="spacingAndGlyphs">12</text>
<line x1="254.11" y1="412.35" x2="254.11" y2="415.15" stroke="#1e1e1e" stroke-width="1"/>
<text x="254.41" y="425.85" fill="#222" font-size="9.4" text-anchor="middle" textLength="9.3" lengthAdjust="spacingAndGlyphs">21</text>
<line x1="292.95" y1="388.3" x2="380.89" y2="388.3" stroke="#b9b9b9" stroke-width="1"/>
<line x1="292.95" y1="391.3" x2="380.89" y2="391.3" stroke="#c4c0c2" stroke-width="1"/>
<polyline fill="none" stroke="#5c9e5e" stroke-width="1" points="292.45,388.3 314.56,388.8 336.67,402.6 358.78,382.5 380.89,386.3"/>
<polyline fill="none" stroke="#cc4a86" stroke-width="1" points="292.45,390 314.56,398.4 336.67,403.4 358.78,392.6"/>
<line x1="314.56" y1="386.5" x2="314.56" y2="390.5" stroke="#666" stroke-width="1"/>
<line x1="313.66" y1="386.5" x2="315.46" y2="386.5" stroke="#666" stroke-width="0.8"/>
<line x1="313.66" y1="390.5" x2="315.46" y2="390.5" stroke="#666" stroke-width="0.8"/>
<line x1="314.56" y1="395" x2="314.56" y2="402.6" stroke="#666" stroke-width="1"/>
<line x1="313.66" y1="395" x2="315.46" y2="395" stroke="#666" stroke-width="0.8"/>
<line x1="313.66" y1="402.6" x2="315.46" y2="402.6" stroke="#666" stroke-width="0.8"/>
<line x1="336.67" y1="400" x2="336.67" y2="407.7" stroke="#666" stroke-width="1"/>
<line x1="335.77" y1="400" x2="337.57" y2="400" stroke="#666" stroke-width="0.8"/>
<line x1="335.77" y1="407.7" x2="337.57" y2="407.7" stroke="#666" stroke-width="0.8"/>
<line x1="358.78" y1="380.8" x2="358.78" y2="385" stroke="#666" stroke-width="1"/>
<line x1="357.88" y1="380.8" x2="359.68" y2="380.8" stroke="#666" stroke-width="0.8"/>
<line x1="357.88" y1="385" x2="359.68" y2="385" stroke="#666" stroke-width="0.8"/>
<line x1="358.78" y1="390" x2="358.78" y2="395" stroke="#666" stroke-width="1"/>
<line x1="357.88" y1="390" x2="359.68" y2="390" stroke="#666" stroke-width="0.8"/>
<line x1="357.88" y1="395" x2="359.68" y2="395" stroke="#666" stroke-width="0.8"/>
<line x1="380.89" y1="384.3" x2="380.89" y2="388.3" stroke="#666" stroke-width="1"/>
<line x1="379.99" y1="384.3" x2="381.79" y2="384.3" stroke="#666" stroke-width="0.8"/>
<line x1="379.99" y1="388.3" x2="381.79" y2="388.3" stroke="#666" stroke-width="0.8"/>
<circle cx="292.45" cy="388.3" r="0.9" fill="#333"/>
<circle cx="314.56" cy="388.8" r="0.9" fill="#333"/>
<circle cx="336.67" cy="402.6" r="0.9" fill="#333"/>
<circle cx="358.78" cy="382.5" r="0.9" fill="#333"/>
<circle cx="380.89" cy="386.3" r="0.9" fill="#333"/>
<circle cx="292.45" cy="390" r="0.9" fill="#333"/>
<circle cx="314.56" cy="398.4" r="0.9" fill="#333"/>
<circle cx="336.67" cy="403.4" r="0.9" fill="#333"/>
<circle cx="358.78" cy="392.6" r="0.9" fill="#333"/>
<circle cx="332.97" cy="396.3" r="1.3" fill="#5c9e5e" opacity="0.85"/>
<circle cx="336.87" cy="396.3" r="1.3" fill="#5c9e5e" opacity="0.85"/>
<circle cx="340.77" cy="396.3" r="1.3" fill="#5c9e5e" opacity="0.85"/>
<line x1="292.45" y1="349.95" x2="292.45" y2="415.15" stroke="#1e1e1e" stroke-width="1.2"/>
<line x1="289.25" y1="412.35" x2="383.99" y2="412.35" stroke="#1e1e1e" stroke-width="1.2"/>
<line x1="289.25" y1="354.4" x2="292.45" y2="354.4" stroke="#1e1e1e" stroke-width="1"/>
<text x="286.15" y="357.5" fill="#222" font-size="9.4" text-anchor="end" textLength="10.8" lengthAdjust="spacingAndGlyphs">1.5</text>
<line x1="289.25" y1="368.89" x2="292.45" y2="368.89" stroke="#1e1e1e" stroke-width="1"/>
<text x="286.15" y="371.99" fill="#222" font-size="9.4" text-anchor="end" textLength="10.8" lengthAdjust="spacingAndGlyphs">1.3</text>
<line x1="289.25" y1="383.38" x2="292.45" y2="383.38" stroke="#1e1e1e" stroke-width="1"/>
<text x="286.15" y="386.48" fill="#222" font-size="9.4" text-anchor="end" textLength="10.8" lengthAdjust="spacingAndGlyphs">1.1</text>
<line x1="289.25" y1="397.86" x2="292.45" y2="397.86" stroke="#1e1e1e" stroke-width="1"/>
<text x="286.15" y="400.96" fill="#222" font-size="9.4" text-anchor="end" textLength="10.8" lengthAdjust="spacingAndGlyphs">0.9</text>
<line x1="289.25" y1="412.35" x2="292.45" y2="412.35" stroke="#1e1e1e" stroke-width="1"/>
<text x="286.15" y="415.45" fill="#222" font-size="9.4" text-anchor="end" textLength="10.8" lengthAdjust="spacingAndGlyphs">0.7</text>
<line x1="292.45" y1="412.35" x2="292.45" y2="415.15" stroke="#1e1e1e" stroke-width="1"/>
<text x="292.75" y="425.85" fill="#222" font-size="9.4" text-anchor="middle" textLength="4.8" lengthAdjust="spacingAndGlyphs">0</text>
<line x1="314.56" y1="412.35" x2="314.56" y2="415.15" stroke="#1e1e1e" stroke-width="1"/>
<text x="314.86" y="425.85" fill="#222" font-size="9.4" text-anchor="middle" textLength="4.8" lengthAdjust="spacingAndGlyphs">4</text>
<line x1="336.67" y1="412.35" x2="336.67" y2="415.15" stroke="#1e1e1e" stroke-width="1"/>
<text x="336.97" y="425.85" fill="#222" font-size="9.4" text-anchor="middle" textLength="4.8" lengthAdjust="spacingAndGlyphs">8</text>
<line x1="358.78" y1="412.35" x2="358.78" y2="415.15" stroke="#1e1e1e" stroke-width="1"/>
<text x="359.08" y="425.85" fill="#222" font-size="9.4" text-anchor="middle" textLength="9.3" lengthAdjust="spacingAndGlyphs">12</text>
<line x1="380.89" y1="412.35" x2="380.89" y2="415.15" stroke="#1e1e1e" stroke-width="1"/>
<text x="381.19" y="425.85" fill="#222" font-size="9.4" text-anchor="middle" textLength="9.3" lengthAdjust="spacingAndGlyphs">21</text>
<line x1="420.1" y1="388.3" x2="508.32" y2="388.3" stroke="#b9b9b9" stroke-width="1"/>
<line x1="420.1" y1="391.3" x2="508.32" y2="391.3" stroke="#c4c0c2" stroke-width="1"/>
<polyline fill="none" stroke="#3f6078" stroke-width="1" points="419.6,397.6 441.78,381.3 463.96,392.6 486.14,382.5 508.32,380.5"/>
<polyline fill="none" stroke="#c94558" stroke-width="1" points="419.6,385 441.78,393.8 463.96,389.3 486.14,371.2"/>
<line x1="441.78" y1="378.5" x2="441.78" y2="402.6" stroke="#666" stroke-width="1"/>
<line x1="440.88" y1="378.5" x2="442.68" y2="378.5" stroke="#666" stroke-width="0.8"/>
<line x1="440.88" y1="402.6" x2="442.68" y2="402.6" stroke="#666" stroke-width="0.8"/>
<line x1="463.96" y1="385" x2="463.96" y2="398.4" stroke="#666" stroke-width="1"/>
<line x1="463.06" y1="385" x2="464.86" y2="385" stroke="#666" stroke-width="0.8"/>
<line x1="463.06" y1="398.4" x2="464.86" y2="398.4" stroke="#666" stroke-width="0.8"/>
<line x1="486.14" y1="354.9" x2="486.14" y2="386.3" stroke="#666" stroke-width="1"/>
<line x1="485.24" y1="354.9" x2="487.04" y2="354.9" stroke="#666" stroke-width="0.8"/>
<line x1="485.24" y1="386.3" x2="487.04" y2="386.3" stroke="#666" stroke-width="0.8"/>
<line x1="508.32" y1="376.2" x2="508.32" y2="385" stroke="#666" stroke-width="1"/>
<line x1="507.42" y1="376.2" x2="509.22" y2="376.2" stroke="#666" stroke-width="0.8"/>
<line x1="507.42" y1="385" x2="509.22" y2="385" stroke="#666" stroke-width="0.8"/>
<circle cx="419.6" cy="397.6" r="0.9" fill="#333"/>
<circle cx="441.78" cy="381.3" r="0.9" fill="#333"/>
<circle cx="463.96" cy="392.6" r="0.9" fill="#333"/>
<circle cx="486.14" cy="382.5" r="0.9" fill="#333"/>
<circle cx="508.32" cy="380.5" r="0.9" fill="#333"/>
<circle cx="419.6" cy="385" r="0.9" fill="#333"/>
<circle cx="441.78" cy="393.8" r="0.9" fill="#333"/>
<circle cx="463.96" cy="389.3" r="0.9" fill="#333"/>
<circle cx="486.14" cy="371.2" r="0.9" fill="#333"/>
<circle cx="441.98" cy="375.3" r="1.3" fill="#3f6078" opacity="0.85"/>
<line x1="419.6" y1="349.95" x2="419.6" y2="415.15" stroke="#1e1e1e" stroke-width="1.2"/>
<line x1="416.4" y1="412.35" x2="511.42" y2="412.35" stroke="#1e1e1e" stroke-width="1.2"/>
<line x1="416.4" y1="354.4" x2="419.6" y2="354.4" stroke="#1e1e1e" stroke-width="1"/>
<text x="413.3" y="357.5" fill="#222" font-size="9.4" text-anchor="end" textLength="10.8" lengthAdjust="spacingAndGlyphs">1.5</text>
<line x1="416.4" y1="368.89" x2="419.6" y2="368.89" stroke="#1e1e1e" stroke-width="1"/>
<text x="413.3" y="371.99" fill="#222" font-size="9.4" text-anchor="end" textLength="10.8" lengthAdjust="spacingAndGlyphs">1.3</text>
<line x1="416.4" y1="383.38" x2="419.6" y2="383.38" stroke="#1e1e1e" stroke-width="1"/>
<text x="413.3" y="386.48" fill="#222" font-size="9.4" text-anchor="end" textLength="10.8" lengthAdjust="spacingAndGlyphs">1.1</text>
<line x1="416.4" y1="397.86" x2="419.6" y2="397.86" stroke="#1e1e1e" stroke-width="1"/>
<text x="413.3" y="400.96" fill="#222" font-size="9.4" text-anchor="end" textLength="10.8" lengthAdjust="spacingAndGlyphs">0.9</text>
<line x1="416.4" y1="412.35" x2="419.6" y2="412.35" stroke="#1e1e1e" stroke-width="1"/>
<text x="413.3" y="415.45" fill="#222" font-size="9.4" text-anchor="end" textLength="10.8" lengthAdjust="spacingAndGlyphs">0.7</text>
<line x1="419.6" y1="412.35" x2="419.6" y2="415.15" stroke="#1e1e1e" stroke-width="1"/>
<text x="419.9" y="425.85" fill="#222" font-size="9.4" text-anchor="middle" textLength="4.8" lengthAdjust="spacingAndGlyphs">0</text>
<line x1="441.78" y1="412.35" x2="441.78" y2="415.15" stroke="#1e1e1e" stroke-width="1"/>
<text x="442.08" y="425.85" fill="#222" font-size="9.4" text-anchor="middle" textLength="4.8" lengthAdjust="spacingAndGlyphs">4</text>
<line x1="463.96" y1="412.35" x2="463.96" y2="415.15" stroke="#1e1e1e" stroke-width="1"/>
<text x="464.26" y="425.85" fill="#222" font-size="9.4" text-anchor="middle" textLength="4.8" lengthAdjust="spacingAndGlyphs">8</text>
<line x1="486.14" y1="412.35" x2="486.14" y2="415.15" stroke="#1e1e1e" stroke-width="1"/>
<text x="486.44" y="425.85" fill="#222" font-size="9.4" text-anchor="middle" textLength="9.3" lengthAdjust="spacingAndGlyphs">12</text>
<line x1="508.32" y1="412.35" x2="508.32" y2="415.15" stroke="#1e1e1e" stroke-width="1"/>
<text x="508.62" y="425.85" fill="#222" font-size="9.4" text-anchor="middle" textLength="9.3" lengthAdjust="spacingAndGlyphs">21</text>
<text transform="translate(15.5,381) rotate(-90)" fill="#2a2a2a" font-size="10" text-anchor="middle" textLength="47" lengthAdjust="spacingAndGlyphs" stroke="#2a2a2a" stroke-width="0.2">Factor activity</text>
<text x="85.15" y="439.7" fill="#2a2a2a" font-size="10.4" text-anchor="middle" textLength="65" lengthAdjust="spacingAndGlyphs" stroke="#2a2a2a" stroke-width="0.2">Days post infection</text>
<text x="211.55" y="439.7" fill="#2a2a2a" font-size="10.4" text-anchor="middle" textLength="65" lengthAdjust="spacingAndGlyphs" stroke="#2a2a2a" stroke-width="0.2">Days post infection</text>
<text x="335.45" y="439.7" fill="#2a2a2a" font-size="10.4" text-anchor="middle" textLength="65" lengthAdjust="spacingAndGlyphs" stroke="#2a2a2a" stroke-width="0.2">Days post infection</text>
<text x="465.45" y="439.7" fill="#2a2a2a" font-size="10.4" text-anchor="middle" textLength="65" lengthAdjust="spacingAndGlyphs" stroke="#2a2a2a" stroke-width="0.2">Days post infection</text>
<text x="132.5" y="26.9" fill="#1a1a1a" font-size="8.3" stroke="#1a1a1a" stroke-width="0.15">FXII</text>
<text x="389.0" y="26.9" fill="#1a1a1a" font-size="8.3" stroke="#1a1a1a" stroke-width="0.15">FII</text>
<text x="132.4" y="132.7" fill="#1a1a1a" font-size="8.3" stroke="#1a1a1a" stroke-width="0.15">FXI</text>
<text x="388.2" y="132.7" fill="#1a1a1a" font-size="8.3" stroke="#1a1a1a" stroke-width="0.15">FV</text>
<text x="132.4" y="238.7" fill="#1a1a1a" font-size="8.3" stroke="#1a1a1a" stroke-width="0.15">FIX</text>
<text x="386.6" y="238.7" fill="#1a1a1a" font-size="8.3" stroke="#1a1a1a" stroke-width="0.15">FVII</text>
<text x="132.4" y="344.5" fill="#1a1a1a" font-size="8.3" stroke="#1a1a1a" stroke-width="0.15">FVIII</text>
<text x="388.2" y="344.5" fill="#1a1a1a" font-size="8.3" stroke="#1a1a1a" stroke-width="0.15">FX</text>
<text x="7" y="16.9" fill="#000" font-size="12.6" font-weight="bold">A</text>
<text x="274.6" y="17" fill="#000" font-size="12.6" font-weight="bold">B</text>
<line x1="55.2" y1="29.3" x2="59.6" y2="29.3" stroke="#5c9e5e" stroke-width="0.9" opacity="0.8"/>
<text x="62.6" y="31.8" fill="#222" font-size="9" textLength="52.3" lengthAdjust="spacingAndGlyphs">GTOV infected</text>
<line x1="55.2" y1="40.6" x2="59.6" y2="40.6" stroke="#cc4a86" stroke-width="0.9" opacity="0.8"/>
<text x="62.6" y="43.1" fill="#222" font-size="9" textLength="53.7" lengthAdjust="spacingAndGlyphs">MACV infected</text>
<line x1="172.2" y1="29.1" x2="176.6" y2="29.1" stroke="#555" stroke-width="0.9" opacity="0.8"/>
<text x="179.3" y="31.8" fill="#222" font-size="9" textLength="61.3" lengthAdjust="spacingAndGlyphs">LASV AV infected</text>
<line x1="172.2" y1="40.5" x2="176.6" y2="40.5" stroke="#c94558" stroke-width="0.9" opacity="0.8"/>
<text x="179.3" y="43.1" fill="#222" font-size="9" textLength="72.9" lengthAdjust="spacingAndGlyphs">LASV Josiah infected</text>
<rect x="0.5" y="0.5" width="519" height="448" fill="none" stroke="#4a4a4a" stroke-width="1"/>
</svg>
</body></html>
